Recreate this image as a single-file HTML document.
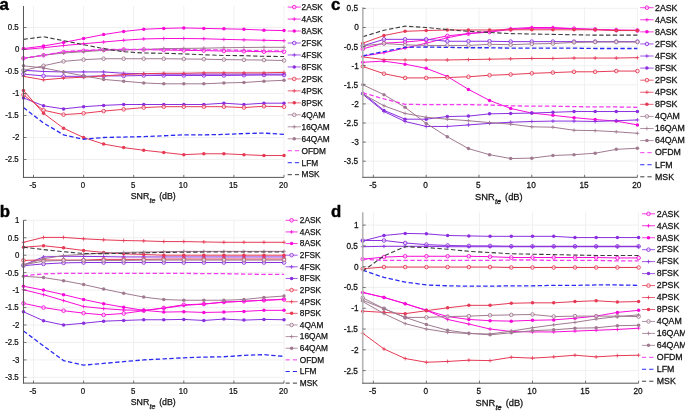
<!DOCTYPE html>
<html><head><meta charset="utf-8"><style>
html,body{margin:0;padding:0;background:#fff;width:685px;height:411px;overflow:hidden}
svg{display:block;filter:blur(0.3px);font-family:"Liberation Sans",sans-serif;fill:#111}
text{fill:#111;stroke:#111;stroke-width:0.25px}
</style></head><body>
<svg width="685" height="411" viewBox="0 0 685 411">
<path d="M33.5 6V177.4M83.6 6V177.4M133.7 6V177.4M183.8 6V177.4M233.9 6V177.4M284 6V177.4M23.48 27.5H284M23.48 49.5H284M23.48 71.5H284M23.48 93.5H284M23.48 115.5H284M23.48 137.5H284M23.48 159.5H284" stroke="#ececec" stroke-width="0.8" fill="none"/>
<clipPath id="clipa"><rect x="20.48" y="3" width="266.52" height="174.4"/></clipPath>
<g clip-path="url(#clipa)"><polyline points="23.48,58.3 43.52,55.22 63.56,52.14 83.6,50.82 103.64,49.94 123.68,49.5 143.72,49.5 163.76,49.94 183.8,50.38 203.84,50.6 223.88,51.04 243.92,51.26 263.96,51.7 284,51.7" fill="none" stroke="#f80bd8" stroke-width="1.0" stroke-linejoin="round"/><circle cx="23.48" cy="58.3" r="1.8" fill="#fff" fill-opacity="0.55" stroke="#f80bd8" stroke-width="0.9"/><circle cx="43.52" cy="55.22" r="1.8" fill="#fff" fill-opacity="0.55" stroke="#f80bd8" stroke-width="0.9"/><circle cx="63.56" cy="52.14" r="1.8" fill="#fff" fill-opacity="0.55" stroke="#f80bd8" stroke-width="0.9"/><circle cx="83.6" cy="50.82" r="1.8" fill="#fff" fill-opacity="0.55" stroke="#f80bd8" stroke-width="0.9"/><circle cx="103.64" cy="49.94" r="1.8" fill="#fff" fill-opacity="0.55" stroke="#f80bd8" stroke-width="0.9"/><circle cx="123.68" cy="49.5" r="1.8" fill="#fff" fill-opacity="0.55" stroke="#f80bd8" stroke-width="0.9"/><circle cx="143.72" cy="49.5" r="1.8" fill="#fff" fill-opacity="0.55" stroke="#f80bd8" stroke-width="0.9"/><circle cx="163.76" cy="49.94" r="1.8" fill="#fff" fill-opacity="0.55" stroke="#f80bd8" stroke-width="0.9"/><circle cx="183.8" cy="50.38" r="1.8" fill="#fff" fill-opacity="0.55" stroke="#f80bd8" stroke-width="0.9"/><circle cx="203.84" cy="50.6" r="1.8" fill="#fff" fill-opacity="0.55" stroke="#f80bd8" stroke-width="0.9"/><circle cx="223.88" cy="51.04" r="1.8" fill="#fff" fill-opacity="0.55" stroke="#f80bd8" stroke-width="0.9"/><circle cx="243.92" cy="51.26" r="1.8" fill="#fff" fill-opacity="0.55" stroke="#f80bd8" stroke-width="0.9"/><circle cx="263.96" cy="51.7" r="1.8" fill="#fff" fill-opacity="0.55" stroke="#f80bd8" stroke-width="0.9"/><circle cx="284" cy="51.7" r="1.8" fill="#fff" fill-opacity="0.55" stroke="#f80bd8" stroke-width="0.9"/><polyline points="23.48,49.5 43.52,47.74 63.56,45.54 83.6,43.78 103.64,42.02 123.68,40.26 143.72,38.94 163.76,38.5 183.8,38.5 203.84,38.72 223.88,39.38 243.92,39.82 263.96,40.26 284,40.7" fill="none" stroke="#f80bd8" stroke-width="1.0" stroke-linejoin="round"/><path d="M21.58 49.5H25.38M23.48 47.6V51.4" stroke="#f80bd8" stroke-width="0.8"/><path d="M41.62 47.74H45.42M43.52 45.84V49.64" stroke="#f80bd8" stroke-width="0.8"/><path d="M61.66 45.54H65.46M63.56 43.64V47.44" stroke="#f80bd8" stroke-width="0.8"/><path d="M81.7 43.78H85.5M83.6 41.88V45.68" stroke="#f80bd8" stroke-width="0.8"/><path d="M101.74 42.02H105.54M103.64 40.12V43.92" stroke="#f80bd8" stroke-width="0.8"/><path d="M121.78 40.26H125.58M123.68 38.36V42.16" stroke="#f80bd8" stroke-width="0.8"/><path d="M141.82 38.94H145.62M143.72 37.04V40.84" stroke="#f80bd8" stroke-width="0.8"/><path d="M161.86 38.5H165.66M163.76 36.6V40.4" stroke="#f80bd8" stroke-width="0.8"/><path d="M181.9 38.5H185.7M183.8 36.6V40.4" stroke="#f80bd8" stroke-width="0.8"/><path d="M201.94 38.72H205.74M203.84 36.82V40.62" stroke="#f80bd8" stroke-width="0.8"/><path d="M221.98 39.38H225.78M223.88 37.48V41.28" stroke="#f80bd8" stroke-width="0.8"/><path d="M242.02 39.82H245.82M243.92 37.92V41.72" stroke="#f80bd8" stroke-width="0.8"/><path d="M262.06 40.26H265.86M263.96 38.36V42.16" stroke="#f80bd8" stroke-width="0.8"/><path d="M282.1 40.7H285.9M284 38.8V42.6" stroke="#f80bd8" stroke-width="0.8"/><polyline points="23.48,48.62 43.52,45.98 63.56,42.46 83.6,38.5 103.64,34.54 123.68,31.46 143.72,29.26 163.76,28.38 183.8,27.94 203.84,28.38 223.88,28.82 243.92,29.26 263.96,30.14 284,30.58" fill="none" stroke="#f80bd8" stroke-width="1.0" stroke-linejoin="round"/><circle cx="23.48" cy="48.62" r="1.75" fill="#f80bd8"/><circle cx="43.52" cy="45.98" r="1.75" fill="#f80bd8"/><circle cx="63.56" cy="42.46" r="1.75" fill="#f80bd8"/><circle cx="83.6" cy="38.5" r="1.75" fill="#f80bd8"/><circle cx="103.64" cy="34.54" r="1.75" fill="#f80bd8"/><circle cx="123.68" cy="31.46" r="1.75" fill="#f80bd8"/><circle cx="143.72" cy="29.26" r="1.75" fill="#f80bd8"/><circle cx="163.76" cy="28.38" r="1.75" fill="#f80bd8"/><circle cx="183.8" cy="27.94" r="1.75" fill="#f80bd8"/><circle cx="203.84" cy="28.38" r="1.75" fill="#f80bd8"/><circle cx="223.88" cy="28.82" r="1.75" fill="#f80bd8"/><circle cx="243.92" cy="29.26" r="1.75" fill="#f80bd8"/><circle cx="263.96" cy="30.14" r="1.75" fill="#f80bd8"/><circle cx="284" cy="30.58" r="1.75" fill="#f80bd8"/><polyline points="23.48,74.14 43.52,75.9 63.56,76.34 83.6,76.34 103.64,75.9 123.68,75.9 143.72,75.46 163.76,75.46 183.8,75.46 203.84,75.46 223.88,75.46 243.92,75.24 263.96,75.02 284,75.02" fill="none" stroke="#8a2fe0" stroke-width="1.0" stroke-linejoin="round"/><circle cx="23.48" cy="74.14" r="1.8" fill="#fff" fill-opacity="0.55" stroke="#8a2fe0" stroke-width="0.9"/><circle cx="43.52" cy="75.9" r="1.8" fill="#fff" fill-opacity="0.55" stroke="#8a2fe0" stroke-width="0.9"/><circle cx="63.56" cy="76.34" r="1.8" fill="#fff" fill-opacity="0.55" stroke="#8a2fe0" stroke-width="0.9"/><circle cx="83.6" cy="76.34" r="1.8" fill="#fff" fill-opacity="0.55" stroke="#8a2fe0" stroke-width="0.9"/><circle cx="103.64" cy="75.9" r="1.8" fill="#fff" fill-opacity="0.55" stroke="#8a2fe0" stroke-width="0.9"/><circle cx="123.68" cy="75.9" r="1.8" fill="#fff" fill-opacity="0.55" stroke="#8a2fe0" stroke-width="0.9"/><circle cx="143.72" cy="75.46" r="1.8" fill="#fff" fill-opacity="0.55" stroke="#8a2fe0" stroke-width="0.9"/><circle cx="163.76" cy="75.46" r="1.8" fill="#fff" fill-opacity="0.55" stroke="#8a2fe0" stroke-width="0.9"/><circle cx="183.8" cy="75.46" r="1.8" fill="#fff" fill-opacity="0.55" stroke="#8a2fe0" stroke-width="0.9"/><circle cx="203.84" cy="75.46" r="1.8" fill="#fff" fill-opacity="0.55" stroke="#8a2fe0" stroke-width="0.9"/><circle cx="223.88" cy="75.46" r="1.8" fill="#fff" fill-opacity="0.55" stroke="#8a2fe0" stroke-width="0.9"/><circle cx="243.92" cy="75.24" r="1.8" fill="#fff" fill-opacity="0.55" stroke="#8a2fe0" stroke-width="0.9"/><circle cx="263.96" cy="75.02" r="1.8" fill="#fff" fill-opacity="0.55" stroke="#8a2fe0" stroke-width="0.9"/><circle cx="284" cy="75.02" r="1.8" fill="#fff" fill-opacity="0.55" stroke="#8a2fe0" stroke-width="0.9"/><polyline points="23.48,70.18 43.52,71.5 63.56,71.94 83.6,71.94 103.64,71.94 123.68,73.26 143.72,73.7 163.76,74.14 183.8,74.14 203.84,74.14 223.88,74.14 243.92,74.14 263.96,74.14 284,74.14" fill="none" stroke="#8a2fe0" stroke-width="1.0" stroke-linejoin="round"/><path d="M21.58 70.18H25.38M23.48 68.28V72.08" stroke="#8a2fe0" stroke-width="0.8"/><path d="M41.62 71.5H45.42M43.52 69.6V73.4" stroke="#8a2fe0" stroke-width="0.8"/><path d="M61.66 71.94H65.46M63.56 70.04V73.84" stroke="#8a2fe0" stroke-width="0.8"/><path d="M81.7 71.94H85.5M83.6 70.04V73.84" stroke="#8a2fe0" stroke-width="0.8"/><path d="M101.74 71.94H105.54M103.64 70.04V73.84" stroke="#8a2fe0" stroke-width="0.8"/><path d="M121.78 73.26H125.58M123.68 71.36V75.16" stroke="#8a2fe0" stroke-width="0.8"/><path d="M141.82 73.7H145.62M143.72 71.8V75.6" stroke="#8a2fe0" stroke-width="0.8"/><path d="M161.86 74.14H165.66M163.76 72.24V76.04" stroke="#8a2fe0" stroke-width="0.8"/><path d="M181.9 74.14H185.7M183.8 72.24V76.04" stroke="#8a2fe0" stroke-width="0.8"/><path d="M201.94 74.14H205.74M203.84 72.24V76.04" stroke="#8a2fe0" stroke-width="0.8"/><path d="M221.98 74.14H225.78M223.88 72.24V76.04" stroke="#8a2fe0" stroke-width="0.8"/><path d="M242.02 74.14H245.82M243.92 72.24V76.04" stroke="#8a2fe0" stroke-width="0.8"/><path d="M262.06 74.14H265.86M263.96 72.24V76.04" stroke="#8a2fe0" stroke-width="0.8"/><path d="M282.1 74.14H285.9M284 72.24V76.04" stroke="#8a2fe0" stroke-width="0.8"/><polyline points="23.48,97.9 43.52,105.82 63.56,108.9 83.6,106.7 103.64,105.38 123.68,104.5 143.72,104.5 163.76,104.5 183.8,104.5 203.84,104.5 223.88,103.18 243.92,104.5 263.96,103.18 284,103.18" fill="none" stroke="#8a2fe0" stroke-width="1.0" stroke-linejoin="round"/><circle cx="23.48" cy="97.9" r="1.75" fill="#8a2fe0"/><circle cx="43.52" cy="105.82" r="1.75" fill="#8a2fe0"/><circle cx="63.56" cy="108.9" r="1.75" fill="#8a2fe0"/><circle cx="83.6" cy="106.7" r="1.75" fill="#8a2fe0"/><circle cx="103.64" cy="105.38" r="1.75" fill="#8a2fe0"/><circle cx="123.68" cy="104.5" r="1.75" fill="#8a2fe0"/><circle cx="143.72" cy="104.5" r="1.75" fill="#8a2fe0"/><circle cx="163.76" cy="104.5" r="1.75" fill="#8a2fe0"/><circle cx="183.8" cy="104.5" r="1.75" fill="#8a2fe0"/><circle cx="203.84" cy="104.5" r="1.75" fill="#8a2fe0"/><circle cx="223.88" cy="103.18" r="1.75" fill="#8a2fe0"/><circle cx="243.92" cy="104.5" r="1.75" fill="#8a2fe0"/><circle cx="263.96" cy="103.18" r="1.75" fill="#8a2fe0"/><circle cx="284" cy="103.18" r="1.75" fill="#8a2fe0"/><polyline points="23.48,94.82 43.52,110.22 63.56,114.62 83.6,113.3 103.64,111.1 123.68,109.34 143.72,107.58 163.76,106.7 183.8,106.7 203.84,106.7 223.88,106.7 243.92,107.58 263.96,106.26 284,106.7" fill="none" stroke="#e63a55" stroke-width="1.0" stroke-linejoin="round"/><circle cx="23.48" cy="94.82" r="1.8" fill="#fff" fill-opacity="0.55" stroke="#e63a55" stroke-width="0.9"/><circle cx="43.52" cy="110.22" r="1.8" fill="#fff" fill-opacity="0.55" stroke="#e63a55" stroke-width="0.9"/><circle cx="63.56" cy="114.62" r="1.8" fill="#fff" fill-opacity="0.55" stroke="#e63a55" stroke-width="0.9"/><circle cx="83.6" cy="113.3" r="1.8" fill="#fff" fill-opacity="0.55" stroke="#e63a55" stroke-width="0.9"/><circle cx="103.64" cy="111.1" r="1.8" fill="#fff" fill-opacity="0.55" stroke="#e63a55" stroke-width="0.9"/><circle cx="123.68" cy="109.34" r="1.8" fill="#fff" fill-opacity="0.55" stroke="#e63a55" stroke-width="0.9"/><circle cx="143.72" cy="107.58" r="1.8" fill="#fff" fill-opacity="0.55" stroke="#e63a55" stroke-width="0.9"/><circle cx="163.76" cy="106.7" r="1.8" fill="#fff" fill-opacity="0.55" stroke="#e63a55" stroke-width="0.9"/><circle cx="183.8" cy="106.7" r="1.8" fill="#fff" fill-opacity="0.55" stroke="#e63a55" stroke-width="0.9"/><circle cx="203.84" cy="106.7" r="1.8" fill="#fff" fill-opacity="0.55" stroke="#e63a55" stroke-width="0.9"/><circle cx="223.88" cy="106.7" r="1.8" fill="#fff" fill-opacity="0.55" stroke="#e63a55" stroke-width="0.9"/><circle cx="243.92" cy="107.58" r="1.8" fill="#fff" fill-opacity="0.55" stroke="#e63a55" stroke-width="0.9"/><circle cx="263.96" cy="106.26" r="1.8" fill="#fff" fill-opacity="0.55" stroke="#e63a55" stroke-width="0.9"/><circle cx="284" cy="106.7" r="1.8" fill="#fff" fill-opacity="0.55" stroke="#e63a55" stroke-width="0.9"/><polyline points="23.48,76.34 43.52,79.86 63.56,78.1 83.6,77.22 103.64,75.9 123.68,74.58 143.72,73.7 163.76,73.26 183.8,73.26 203.84,72.82 223.88,72.82 243.92,72.82 263.96,72.82 284,72.38" fill="none" stroke="#e63a55" stroke-width="1.0" stroke-linejoin="round"/><path d="M21.58 76.34H25.38M23.48 74.44V78.24" stroke="#e63a55" stroke-width="0.8"/><path d="M41.62 79.86H45.42M43.52 77.96V81.76" stroke="#e63a55" stroke-width="0.8"/><path d="M61.66 78.1H65.46M63.56 76.2V80" stroke="#e63a55" stroke-width="0.8"/><path d="M81.7 77.22H85.5M83.6 75.32V79.12" stroke="#e63a55" stroke-width="0.8"/><path d="M101.74 75.9H105.54M103.64 74V77.8" stroke="#e63a55" stroke-width="0.8"/><path d="M121.78 74.58H125.58M123.68 72.68V76.48" stroke="#e63a55" stroke-width="0.8"/><path d="M141.82 73.7H145.62M143.72 71.8V75.6" stroke="#e63a55" stroke-width="0.8"/><path d="M161.86 73.26H165.66M163.76 71.36V75.16" stroke="#e63a55" stroke-width="0.8"/><path d="M181.9 73.26H185.7M183.8 71.36V75.16" stroke="#e63a55" stroke-width="0.8"/><path d="M201.94 72.82H205.74M203.84 70.92V74.72" stroke="#e63a55" stroke-width="0.8"/><path d="M221.98 72.82H225.78M223.88 70.92V74.72" stroke="#e63a55" stroke-width="0.8"/><path d="M242.02 72.82H245.82M243.92 70.92V74.72" stroke="#e63a55" stroke-width="0.8"/><path d="M262.06 72.82H265.86M263.96 70.92V74.72" stroke="#e63a55" stroke-width="0.8"/><path d="M282.1 72.38H285.9M284 70.48V74.28" stroke="#e63a55" stroke-width="0.8"/><polyline points="23.48,90.42 43.52,113.3 63.56,128.26 83.6,137.5 103.64,144.1 123.68,147.62 143.72,150.26 163.76,152.46 183.8,154.66 203.84,153.78 223.88,153.78 243.92,154.66 263.96,155.54 284,155.54" fill="none" stroke="#e63a55" stroke-width="1.0" stroke-linejoin="round"/><circle cx="23.48" cy="90.42" r="1.75" fill="#e63a55"/><circle cx="43.52" cy="113.3" r="1.75" fill="#e63a55"/><circle cx="63.56" cy="128.26" r="1.75" fill="#e63a55"/><circle cx="83.6" cy="137.5" r="1.75" fill="#e63a55"/><circle cx="103.64" cy="144.1" r="1.75" fill="#e63a55"/><circle cx="123.68" cy="147.62" r="1.75" fill="#e63a55"/><circle cx="143.72" cy="150.26" r="1.75" fill="#e63a55"/><circle cx="163.76" cy="152.46" r="1.75" fill="#e63a55"/><circle cx="183.8" cy="154.66" r="1.75" fill="#e63a55"/><circle cx="203.84" cy="153.78" r="1.75" fill="#e63a55"/><circle cx="223.88" cy="153.78" r="1.75" fill="#e63a55"/><circle cx="243.92" cy="154.66" r="1.75" fill="#e63a55"/><circle cx="263.96" cy="155.54" r="1.75" fill="#e63a55"/><circle cx="284" cy="155.54" r="1.75" fill="#e63a55"/><polyline points="23.48,70.4 43.52,65.78 63.56,61.38 83.6,59.62 103.64,58.74 123.68,58.74 143.72,58.74 163.76,58.74 183.8,58.96 203.84,59.18 223.88,59.62 243.92,59.84 263.96,60.06 284,60.5" fill="none" stroke="#a07a90" stroke-width="1.0" stroke-linejoin="round"/><circle cx="23.48" cy="70.4" r="1.8" fill="#fff" fill-opacity="0.55" stroke="#a07a90" stroke-width="0.9"/><circle cx="43.52" cy="65.78" r="1.8" fill="#fff" fill-opacity="0.55" stroke="#a07a90" stroke-width="0.9"/><circle cx="63.56" cy="61.38" r="1.8" fill="#fff" fill-opacity="0.55" stroke="#a07a90" stroke-width="0.9"/><circle cx="83.6" cy="59.62" r="1.8" fill="#fff" fill-opacity="0.55" stroke="#a07a90" stroke-width="0.9"/><circle cx="103.64" cy="58.74" r="1.8" fill="#fff" fill-opacity="0.55" stroke="#a07a90" stroke-width="0.9"/><circle cx="123.68" cy="58.74" r="1.8" fill="#fff" fill-opacity="0.55" stroke="#a07a90" stroke-width="0.9"/><circle cx="143.72" cy="58.74" r="1.8" fill="#fff" fill-opacity="0.55" stroke="#a07a90" stroke-width="0.9"/><circle cx="163.76" cy="58.74" r="1.8" fill="#fff" fill-opacity="0.55" stroke="#a07a90" stroke-width="0.9"/><circle cx="183.8" cy="58.96" r="1.8" fill="#fff" fill-opacity="0.55" stroke="#a07a90" stroke-width="0.9"/><circle cx="203.84" cy="59.18" r="1.8" fill="#fff" fill-opacity="0.55" stroke="#a07a90" stroke-width="0.9"/><circle cx="223.88" cy="59.62" r="1.8" fill="#fff" fill-opacity="0.55" stroke="#a07a90" stroke-width="0.9"/><circle cx="243.92" cy="59.84" r="1.8" fill="#fff" fill-opacity="0.55" stroke="#a07a90" stroke-width="0.9"/><circle cx="263.96" cy="60.06" r="1.8" fill="#fff" fill-opacity="0.55" stroke="#a07a90" stroke-width="0.9"/><circle cx="284" cy="60.5" r="1.8" fill="#fff" fill-opacity="0.55" stroke="#a07a90" stroke-width="0.9"/><polyline points="23.48,58.3 43.52,55.22 63.56,53.02 83.6,51.7 103.64,50.38 123.68,49.94 143.72,49.5 163.76,48.62 183.8,48.4 203.84,48.18 223.88,47.74 243.92,47.52 263.96,47.3 284,47.3" fill="none" stroke="#a07a90" stroke-width="1.0" stroke-linejoin="round"/><path d="M21.58 58.3H25.38M23.48 56.4V60.2" stroke="#a07a90" stroke-width="0.8"/><path d="M41.62 55.22H45.42M43.52 53.32V57.12" stroke="#a07a90" stroke-width="0.8"/><path d="M61.66 53.02H65.46M63.56 51.12V54.92" stroke="#a07a90" stroke-width="0.8"/><path d="M81.7 51.7H85.5M83.6 49.8V53.6" stroke="#a07a90" stroke-width="0.8"/><path d="M101.74 50.38H105.54M103.64 48.48V52.28" stroke="#a07a90" stroke-width="0.8"/><path d="M121.78 49.94H125.58M123.68 48.04V51.84" stroke="#a07a90" stroke-width="0.8"/><path d="M141.82 49.5H145.62M143.72 47.6V51.4" stroke="#a07a90" stroke-width="0.8"/><path d="M161.86 48.62H165.66M163.76 46.72V50.52" stroke="#a07a90" stroke-width="0.8"/><path d="M181.9 48.4H185.7M183.8 46.5V50.3" stroke="#a07a90" stroke-width="0.8"/><path d="M201.94 48.18H205.74M203.84 46.28V50.08" stroke="#a07a90" stroke-width="0.8"/><path d="M221.98 47.74H225.78M223.88 45.84V49.64" stroke="#a07a90" stroke-width="0.8"/><path d="M242.02 47.52H245.82M243.92 45.62V49.42" stroke="#a07a90" stroke-width="0.8"/><path d="M262.06 47.3H265.86M263.96 45.4V49.2" stroke="#a07a90" stroke-width="0.8"/><path d="M282.1 47.3H285.9M284 45.4V49.2" stroke="#a07a90" stroke-width="0.8"/><polyline points="23.48,65.78 43.52,67.98 63.56,71.94 83.6,75.9 103.64,79.42 123.68,81.18 143.72,82.94 163.76,83.82 183.8,83.82 203.84,83.82 223.88,82.94 243.92,82.5 263.96,81.18 284,80.3" fill="none" stroke="#a07a90" stroke-width="1.0" stroke-linejoin="round"/><circle cx="23.48" cy="65.78" r="1.75" fill="#a07a90"/><circle cx="43.52" cy="67.98" r="1.75" fill="#a07a90"/><circle cx="63.56" cy="71.94" r="1.75" fill="#a07a90"/><circle cx="83.6" cy="75.9" r="1.75" fill="#a07a90"/><circle cx="103.64" cy="79.42" r="1.75" fill="#a07a90"/><circle cx="123.68" cy="81.18" r="1.75" fill="#a07a90"/><circle cx="143.72" cy="82.94" r="1.75" fill="#a07a90"/><circle cx="163.76" cy="83.82" r="1.75" fill="#a07a90"/><circle cx="183.8" cy="83.82" r="1.75" fill="#a07a90"/><circle cx="203.84" cy="83.82" r="1.75" fill="#a07a90"/><circle cx="223.88" cy="82.94" r="1.75" fill="#a07a90"/><circle cx="243.92" cy="82.5" r="1.75" fill="#a07a90"/><circle cx="263.96" cy="81.18" r="1.75" fill="#a07a90"/><circle cx="284" cy="80.3" r="1.75" fill="#a07a90"/><polyline points="23.48,58.3 43.52,55.22 63.56,51.7 83.6,50.38 103.64,49.5 123.68,49.5 143.72,49.5 163.76,49.5 183.8,49.5 203.84,49.94 223.88,49.94 243.92,50.38 263.96,50.82 284,50.82" fill="none" stroke="#f23cf0" stroke-width="1.3" stroke-dasharray="4.4 2.4"/><polyline points="23.48,107.58 43.52,122.98 63.56,134.86 83.6,139.26 103.64,137.5 123.68,137.06 143.72,136.62 163.76,135.74 183.8,134.86 203.84,134.86 223.88,134.42 243.92,133.54 263.96,133.1 284,134.42" fill="none" stroke="#2a2af4" stroke-width="1.3" stroke-dasharray="4.4 2.4"/><polyline points="23.48,39.38 43.52,36.74 63.56,40.7 83.6,44.66 103.64,48.62 123.68,51.7 143.72,53.02 163.76,53.24 183.8,53.9 203.84,54.78 223.88,55.44 243.92,55.66 263.96,56.32 284,56.54" fill="none" stroke="#3c3c3c" stroke-width="1.1" stroke-dasharray="4.4 2.4"/></g>
<path d="M23.48 6V177.9" stroke="#555555" stroke-width="1.0"/>
<path d="M22.98 177.4H284" stroke="#555555" stroke-width="1"/>
<path d="M33.5 177.4v-2.5M83.6 177.4v-2.5M133.7 177.4v-2.5M183.8 177.4v-2.5M233.9 177.4v-2.5M284 177.4v-2.5M23.48 27.5h3M23.48 49.5h3M23.48 71.5h3M23.48 93.5h3M23.48 115.5h3M23.48 137.5h3M23.48 159.5h3" stroke="#555555" stroke-width="0.8"/>
<g font-size="8.7"><text transform="translate(32.9 188.3) scale(0.9 1)" text-anchor="middle">-5</text><text transform="translate(83 188.3) scale(0.9 1)" text-anchor="middle">0</text><text transform="translate(133.1 188.3) scale(0.9 1)" text-anchor="middle">5</text><text transform="translate(183.2 188.3) scale(0.9 1)" text-anchor="middle">10</text><text transform="translate(233.3 188.3) scale(0.9 1)" text-anchor="middle">15</text><text transform="translate(283.4 188.3) scale(0.9 1)" text-anchor="middle">20</text><text transform="translate(18.68 30.4) scale(0.9 1)" text-anchor="end">0.5</text><text transform="translate(19.38 52.4) scale(0.9 1)" text-anchor="end">0</text><text transform="translate(18.68 74.4) scale(0.9 1)" text-anchor="end">-0.5</text><text transform="translate(19.38 96.4) scale(0.9 1)" text-anchor="end">-1</text><text transform="translate(18.68 118.4) scale(0.9 1)" text-anchor="end">-1.5</text><text transform="translate(19.38 140.4) scale(0.9 1)" text-anchor="end">-2</text><text transform="translate(18.68 162.4) scale(0.9 1)" text-anchor="end">-2.5</text></g>
<text transform="translate(153.24 199.1) scale(1 1)" font-size="8.8" text-anchor="middle">SNR<tspan font-size="7" font-style="italic" dx="0.3" dy="4">te</tspan><tspan dx="1.3" dy="-4"> (dB)</tspan></text>
<path d="M287.7 7.1H300.8" stroke="#f80bd8" stroke-width="0.8"/><circle cx="294.25" cy="7.1" r="1.8" fill="#fff" fill-opacity="0.55" stroke="#f80bd8" stroke-width="0.9"/><text transform="translate(301.6 9.9) scale(1 1)" font-size="8.3">2ASK</text><path d="M287.7 19.07H300.8" stroke="#f80bd8" stroke-width="0.8"/><path d="M292.35 19.07H296.15M294.25 17.17V20.97" stroke="#f80bd8" stroke-width="0.8"/><text transform="translate(301.6 21.87) scale(1 1)" font-size="8.3">4ASK</text><path d="M287.7 31.04H300.8" stroke="#f80bd8" stroke-width="0.8"/><circle cx="294.25" cy="31.04" r="1.75" fill="#f80bd8"/><text transform="translate(301.6 33.84) scale(1 1)" font-size="8.3">8ASK</text><path d="M287.7 43.01H300.8" stroke="#8a2fe0" stroke-width="0.8"/><circle cx="294.25" cy="43.01" r="1.8" fill="#fff" fill-opacity="0.55" stroke="#8a2fe0" stroke-width="0.9"/><text transform="translate(301.6 45.81) scale(1 1)" font-size="8.3">2FSK</text><path d="M287.7 54.98H300.8" stroke="#8a2fe0" stroke-width="0.8"/><path d="M292.35 54.98H296.15M294.25 53.08V56.88" stroke="#8a2fe0" stroke-width="0.8"/><text transform="translate(301.6 57.78) scale(1 1)" font-size="8.3">4FSK</text><path d="M287.7 66.95H300.8" stroke="#8a2fe0" stroke-width="0.8"/><circle cx="294.25" cy="66.95" r="1.75" fill="#8a2fe0"/><text transform="translate(301.6 69.75) scale(1 1)" font-size="8.3">8FSK</text><path d="M287.7 78.92H300.8" stroke="#e63a55" stroke-width="0.8"/><circle cx="294.25" cy="78.92" r="1.8" fill="#fff" fill-opacity="0.55" stroke="#e63a55" stroke-width="0.9"/><text transform="translate(301.6 81.72) scale(1 1)" font-size="8.3">2PSK</text><path d="M287.7 90.89H300.8" stroke="#e63a55" stroke-width="0.8"/><path d="M292.35 90.89H296.15M294.25 88.99V92.79" stroke="#e63a55" stroke-width="0.8"/><text transform="translate(301.6 93.69) scale(1 1)" font-size="8.3">4PSK</text><path d="M287.7 102.86H300.8" stroke="#e63a55" stroke-width="0.8"/><circle cx="294.25" cy="102.86" r="1.75" fill="#e63a55"/><text transform="translate(301.6 105.66) scale(1 1)" font-size="8.3">8PSK</text><path d="M287.7 114.83H300.8" stroke="#a07a90" stroke-width="0.8"/><circle cx="294.25" cy="114.83" r="1.8" fill="#fff" fill-opacity="0.55" stroke="#a07a90" stroke-width="0.9"/><text transform="translate(301.6 117.63) scale(1 1)" font-size="8.3">4QAM</text><path d="M287.7 126.8H300.8" stroke="#a07a90" stroke-width="0.8"/><path d="M292.35 126.8H296.15M294.25 124.9V128.7" stroke="#a07a90" stroke-width="0.8"/><text transform="translate(301.6 129.6) scale(1 1)" font-size="8.3">16QAM</text><path d="M287.7 138.77H300.8" stroke="#a07a90" stroke-width="0.8"/><circle cx="294.25" cy="138.77" r="1.75" fill="#a07a90"/><text transform="translate(301.6 141.57) scale(1 1)" font-size="8.3">64QAM</text><path d="M287.7 150.74H300.8" stroke="#f23cf0" stroke-width="1" stroke-dasharray="4.2 3"/><text transform="translate(301.6 153.54) scale(1 1)" font-size="8.3">OFDM</text><path d="M287.7 162.71H300.8" stroke="#2a2af4" stroke-width="1" stroke-dasharray="4.2 3"/><text transform="translate(301.6 165.51) scale(1 1)" font-size="8.3">LFM</text><path d="M287.7 174.68H300.8" stroke="#3c3c3c" stroke-width="1" stroke-dasharray="4.2 3"/><text transform="translate(301.6 177.48) scale(1 1)" font-size="8.3">MSK</text>
<text x="-0.5" y="9.5" font-size="16.8" font-weight="bold" style="stroke:#000;stroke-width:0.4px;fill:#000">a</text>
<path d="M33.5 220.3V383.1M83.6 220.3V383.1M133.7 220.3V383.1M183.8 220.3V383.1M233.9 220.3V383.1M284 220.3V383.1M23.48 220.3H284M23.48 237.75H284M23.48 255.2H284M23.48 272.65H284M23.48 290.1H284M23.48 307.55H284M23.48 325H284M23.48 342.45H284M23.48 359.9H284M23.48 377.35H284" stroke="#ececec" stroke-width="0.8" fill="none"/>
<clipPath id="clipb"><rect x="20.48" y="217.3" width="266.52" height="165.8"/></clipPath>
<g clip-path="url(#clipb)"><polyline points="23.48,303.36 43.52,307.55 63.56,310.69 83.6,313.13 103.64,314.88 123.68,313.48 143.72,310.69 163.76,307.9 183.8,304.76 203.84,304.06 223.88,301.97 243.92,301.27 263.96,300.22 284,299.52" fill="none" stroke="#f80bd8" stroke-width="1.0" stroke-linejoin="round"/><circle cx="23.48" cy="303.36" r="1.8" fill="#fff" fill-opacity="0.55" stroke="#f80bd8" stroke-width="0.9"/><circle cx="43.52" cy="307.55" r="1.8" fill="#fff" fill-opacity="0.55" stroke="#f80bd8" stroke-width="0.9"/><circle cx="63.56" cy="310.69" r="1.8" fill="#fff" fill-opacity="0.55" stroke="#f80bd8" stroke-width="0.9"/><circle cx="83.6" cy="313.13" r="1.8" fill="#fff" fill-opacity="0.55" stroke="#f80bd8" stroke-width="0.9"/><circle cx="103.64" cy="314.88" r="1.8" fill="#fff" fill-opacity="0.55" stroke="#f80bd8" stroke-width="0.9"/><circle cx="123.68" cy="313.48" r="1.8" fill="#fff" fill-opacity="0.55" stroke="#f80bd8" stroke-width="0.9"/><circle cx="143.72" cy="310.69" r="1.8" fill="#fff" fill-opacity="0.55" stroke="#f80bd8" stroke-width="0.9"/><circle cx="163.76" cy="307.9" r="1.8" fill="#fff" fill-opacity="0.55" stroke="#f80bd8" stroke-width="0.9"/><circle cx="183.8" cy="304.76" r="1.8" fill="#fff" fill-opacity="0.55" stroke="#f80bd8" stroke-width="0.9"/><circle cx="203.84" cy="304.06" r="1.8" fill="#fff" fill-opacity="0.55" stroke="#f80bd8" stroke-width="0.9"/><circle cx="223.88" cy="301.97" r="1.8" fill="#fff" fill-opacity="0.55" stroke="#f80bd8" stroke-width="0.9"/><circle cx="243.92" cy="301.27" r="1.8" fill="#fff" fill-opacity="0.55" stroke="#f80bd8" stroke-width="0.9"/><circle cx="263.96" cy="300.22" r="1.8" fill="#fff" fill-opacity="0.55" stroke="#f80bd8" stroke-width="0.9"/><circle cx="284" cy="299.52" r="1.8" fill="#fff" fill-opacity="0.55" stroke="#f80bd8" stroke-width="0.9"/><polyline points="23.48,289.75 43.52,294.64 63.56,300.57 83.6,306.5 103.64,308.6 123.68,309.99 143.72,310.34 163.76,308.25 183.8,305.46 203.84,304.06 223.88,302.31 243.92,301.27 263.96,300.22 284,299.17" fill="none" stroke="#f80bd8" stroke-width="1.0" stroke-linejoin="round"/><path d="M21.58 289.75H25.38M23.48 287.85V291.65" stroke="#f80bd8" stroke-width="0.8"/><path d="M41.62 294.64H45.42M43.52 292.74V296.54" stroke="#f80bd8" stroke-width="0.8"/><path d="M61.66 300.57H65.46M63.56 298.67V302.47" stroke="#f80bd8" stroke-width="0.8"/><path d="M81.7 306.5H85.5M83.6 304.6V308.4" stroke="#f80bd8" stroke-width="0.8"/><path d="M101.74 308.6H105.54M103.64 306.7V310.5" stroke="#f80bd8" stroke-width="0.8"/><path d="M121.78 309.99H125.58M123.68 308.09V311.89" stroke="#f80bd8" stroke-width="0.8"/><path d="M141.82 310.34H145.62M143.72 308.44V312.24" stroke="#f80bd8" stroke-width="0.8"/><path d="M161.86 308.25H165.66M163.76 306.35V310.15" stroke="#f80bd8" stroke-width="0.8"/><path d="M181.9 305.46H185.7M183.8 303.56V307.36" stroke="#f80bd8" stroke-width="0.8"/><path d="M201.94 304.06H205.74M203.84 302.16V305.96" stroke="#f80bd8" stroke-width="0.8"/><path d="M221.98 302.31H225.78M223.88 300.42V304.21" stroke="#f80bd8" stroke-width="0.8"/><path d="M242.02 301.27H245.82M243.92 299.37V303.17" stroke="#f80bd8" stroke-width="0.8"/><path d="M262.06 300.22H265.86M263.96 298.32V302.12" stroke="#f80bd8" stroke-width="0.8"/><path d="M282.1 299.17H285.9M284 297.27V301.07" stroke="#f80bd8" stroke-width="0.8"/><polyline points="23.48,286.26 43.52,290.1 63.56,294.64 83.6,299.52 103.64,303.71 123.68,307.2 143.72,310.34 163.76,312.09 183.8,311.74 203.84,312.44 223.88,312.09 243.92,311.39 263.96,310.34 284,310.34" fill="none" stroke="#f80bd8" stroke-width="1.0" stroke-linejoin="round"/><circle cx="23.48" cy="286.26" r="1.75" fill="#f80bd8"/><circle cx="43.52" cy="290.1" r="1.75" fill="#f80bd8"/><circle cx="63.56" cy="294.64" r="1.75" fill="#f80bd8"/><circle cx="83.6" cy="299.52" r="1.75" fill="#f80bd8"/><circle cx="103.64" cy="303.71" r="1.75" fill="#f80bd8"/><circle cx="123.68" cy="307.2" r="1.75" fill="#f80bd8"/><circle cx="143.72" cy="310.34" r="1.75" fill="#f80bd8"/><circle cx="163.76" cy="312.09" r="1.75" fill="#f80bd8"/><circle cx="183.8" cy="311.74" r="1.75" fill="#f80bd8"/><circle cx="203.84" cy="312.44" r="1.75" fill="#f80bd8"/><circle cx="223.88" cy="312.09" r="1.75" fill="#f80bd8"/><circle cx="243.92" cy="311.39" r="1.75" fill="#f80bd8"/><circle cx="263.96" cy="310.34" r="1.75" fill="#f80bd8"/><circle cx="284" cy="310.34" r="1.75" fill="#f80bd8"/><polyline points="23.48,265.67 43.52,263.93 63.56,262.88 83.6,262.53 103.64,262.53 123.68,262.53 143.72,262.53 163.76,262.53 183.8,262.53 203.84,262.53 223.88,262.53 243.92,262.53 263.96,262.53 284,262.53" fill="none" stroke="#8a2fe0" stroke-width="1.0" stroke-linejoin="round"/><circle cx="23.48" cy="265.67" r="1.8" fill="#fff" fill-opacity="0.55" stroke="#8a2fe0" stroke-width="0.9"/><circle cx="43.52" cy="263.93" r="1.8" fill="#fff" fill-opacity="0.55" stroke="#8a2fe0" stroke-width="0.9"/><circle cx="63.56" cy="262.88" r="1.8" fill="#fff" fill-opacity="0.55" stroke="#8a2fe0" stroke-width="0.9"/><circle cx="83.6" cy="262.53" r="1.8" fill="#fff" fill-opacity="0.55" stroke="#8a2fe0" stroke-width="0.9"/><circle cx="103.64" cy="262.53" r="1.8" fill="#fff" fill-opacity="0.55" stroke="#8a2fe0" stroke-width="0.9"/><circle cx="123.68" cy="262.53" r="1.8" fill="#fff" fill-opacity="0.55" stroke="#8a2fe0" stroke-width="0.9"/><circle cx="143.72" cy="262.53" r="1.8" fill="#fff" fill-opacity="0.55" stroke="#8a2fe0" stroke-width="0.9"/><circle cx="163.76" cy="262.53" r="1.8" fill="#fff" fill-opacity="0.55" stroke="#8a2fe0" stroke-width="0.9"/><circle cx="183.8" cy="262.53" r="1.8" fill="#fff" fill-opacity="0.55" stroke="#8a2fe0" stroke-width="0.9"/><circle cx="203.84" cy="262.53" r="1.8" fill="#fff" fill-opacity="0.55" stroke="#8a2fe0" stroke-width="0.9"/><circle cx="223.88" cy="262.53" r="1.8" fill="#fff" fill-opacity="0.55" stroke="#8a2fe0" stroke-width="0.9"/><circle cx="243.92" cy="262.53" r="1.8" fill="#fff" fill-opacity="0.55" stroke="#8a2fe0" stroke-width="0.9"/><circle cx="263.96" cy="262.53" r="1.8" fill="#fff" fill-opacity="0.55" stroke="#8a2fe0" stroke-width="0.9"/><circle cx="284" cy="262.53" r="1.8" fill="#fff" fill-opacity="0.55" stroke="#8a2fe0" stroke-width="0.9"/><polyline points="23.48,264.97 43.52,256.94 63.56,256.25 83.6,256.42 103.64,256.6 123.68,256.94 143.72,256.94 163.76,256.94 183.8,256.94 203.84,256.94 223.88,256.94 243.92,256.94 263.96,256.94 284,256.94" fill="none" stroke="#8a2fe0" stroke-width="1.0" stroke-linejoin="round"/><path d="M21.58 264.97H25.38M23.48 263.07V266.87" stroke="#8a2fe0" stroke-width="0.8"/><path d="M41.62 256.94H45.42M43.52 255.04V258.84" stroke="#8a2fe0" stroke-width="0.8"/><path d="M61.66 256.25H65.46M63.56 254.35V258.15" stroke="#8a2fe0" stroke-width="0.8"/><path d="M81.7 256.42H85.5M83.6 254.52V258.32" stroke="#8a2fe0" stroke-width="0.8"/><path d="M101.74 256.6H105.54M103.64 254.7V258.5" stroke="#8a2fe0" stroke-width="0.8"/><path d="M121.78 256.94H125.58M123.68 255.04V258.84" stroke="#8a2fe0" stroke-width="0.8"/><path d="M141.82 256.94H145.62M143.72 255.04V258.84" stroke="#8a2fe0" stroke-width="0.8"/><path d="M161.86 256.94H165.66M163.76 255.04V258.84" stroke="#8a2fe0" stroke-width="0.8"/><path d="M181.9 256.94H185.7M183.8 255.04V258.84" stroke="#8a2fe0" stroke-width="0.8"/><path d="M201.94 256.94H205.74M203.84 255.04V258.84" stroke="#8a2fe0" stroke-width="0.8"/><path d="M221.98 256.94H225.78M223.88 255.04V258.84" stroke="#8a2fe0" stroke-width="0.8"/><path d="M242.02 256.94H245.82M243.92 255.04V258.84" stroke="#8a2fe0" stroke-width="0.8"/><path d="M262.06 256.94H265.86M263.96 255.04V258.84" stroke="#8a2fe0" stroke-width="0.8"/><path d="M282.1 256.94H285.9M284 255.04V258.84" stroke="#8a2fe0" stroke-width="0.8"/><polyline points="23.48,311.74 43.52,320.81 63.56,325 83.6,323.25 103.64,321.16 123.68,320.46 143.72,319.76 163.76,319.76 183.8,319.42 203.84,320.46 223.88,319.07 243.92,320.11 263.96,319.42 284,319.76" fill="none" stroke="#8a2fe0" stroke-width="1.0" stroke-linejoin="round"/><circle cx="23.48" cy="311.74" r="1.75" fill="#8a2fe0"/><circle cx="43.52" cy="320.81" r="1.75" fill="#8a2fe0"/><circle cx="63.56" cy="325" r="1.75" fill="#8a2fe0"/><circle cx="83.6" cy="323.25" r="1.75" fill="#8a2fe0"/><circle cx="103.64" cy="321.16" r="1.75" fill="#8a2fe0"/><circle cx="123.68" cy="320.46" r="1.75" fill="#8a2fe0"/><circle cx="143.72" cy="319.76" r="1.75" fill="#8a2fe0"/><circle cx="163.76" cy="319.76" r="1.75" fill="#8a2fe0"/><circle cx="183.8" cy="319.42" r="1.75" fill="#8a2fe0"/><circle cx="203.84" cy="320.46" r="1.75" fill="#8a2fe0"/><circle cx="223.88" cy="319.07" r="1.75" fill="#8a2fe0"/><circle cx="243.92" cy="320.11" r="1.75" fill="#8a2fe0"/><circle cx="263.96" cy="319.42" r="1.75" fill="#8a2fe0"/><circle cx="284" cy="319.76" r="1.75" fill="#8a2fe0"/><polyline points="23.48,260.44 43.52,259.91 63.56,260.09 83.6,260.09 103.64,259.39 123.68,259.39 143.72,259.39 163.76,259.04 183.8,259.04 203.84,259.04 223.88,259.04 243.92,259.04 263.96,259.04 284,259.04" fill="none" stroke="#e63a55" stroke-width="1.0" stroke-linejoin="round"/><circle cx="23.48" cy="260.44" r="1.8" fill="#fff" fill-opacity="0.55" stroke="#e63a55" stroke-width="0.9"/><circle cx="43.52" cy="259.91" r="1.8" fill="#fff" fill-opacity="0.55" stroke="#e63a55" stroke-width="0.9"/><circle cx="63.56" cy="260.09" r="1.8" fill="#fff" fill-opacity="0.55" stroke="#e63a55" stroke-width="0.9"/><circle cx="83.6" cy="260.09" r="1.8" fill="#fff" fill-opacity="0.55" stroke="#e63a55" stroke-width="0.9"/><circle cx="103.64" cy="259.39" r="1.8" fill="#fff" fill-opacity="0.55" stroke="#e63a55" stroke-width="0.9"/><circle cx="123.68" cy="259.39" r="1.8" fill="#fff" fill-opacity="0.55" stroke="#e63a55" stroke-width="0.9"/><circle cx="143.72" cy="259.39" r="1.8" fill="#fff" fill-opacity="0.55" stroke="#e63a55" stroke-width="0.9"/><circle cx="163.76" cy="259.04" r="1.8" fill="#fff" fill-opacity="0.55" stroke="#e63a55" stroke-width="0.9"/><circle cx="183.8" cy="259.04" r="1.8" fill="#fff" fill-opacity="0.55" stroke="#e63a55" stroke-width="0.9"/><circle cx="203.84" cy="259.04" r="1.8" fill="#fff" fill-opacity="0.55" stroke="#e63a55" stroke-width="0.9"/><circle cx="223.88" cy="259.04" r="1.8" fill="#fff" fill-opacity="0.55" stroke="#e63a55" stroke-width="0.9"/><circle cx="243.92" cy="259.04" r="1.8" fill="#fff" fill-opacity="0.55" stroke="#e63a55" stroke-width="0.9"/><circle cx="263.96" cy="259.04" r="1.8" fill="#fff" fill-opacity="0.55" stroke="#e63a55" stroke-width="0.9"/><circle cx="284" cy="259.04" r="1.8" fill="#fff" fill-opacity="0.55" stroke="#e63a55" stroke-width="0.9"/><polyline points="23.48,242.29 43.52,237.4 63.56,237.4 83.6,238.8 103.64,239.84 123.68,240.54 143.72,240.89 163.76,241.59 183.8,241.59 203.84,241.94 223.88,242.29 243.92,242.29 263.96,242.29 284,242.29" fill="none" stroke="#e63a55" stroke-width="1.0" stroke-linejoin="round"/><path d="M21.58 242.29H25.38M23.48 240.39V244.19" stroke="#e63a55" stroke-width="0.8"/><path d="M41.62 237.4H45.42M43.52 235.5V239.3" stroke="#e63a55" stroke-width="0.8"/><path d="M61.66 237.4H65.46M63.56 235.5V239.3" stroke="#e63a55" stroke-width="0.8"/><path d="M81.7 238.8H85.5M83.6 236.9V240.7" stroke="#e63a55" stroke-width="0.8"/><path d="M101.74 239.84H105.54M103.64 237.94V241.74" stroke="#e63a55" stroke-width="0.8"/><path d="M121.78 240.54H125.58M123.68 238.64V242.44" stroke="#e63a55" stroke-width="0.8"/><path d="M141.82 240.89H145.62M143.72 238.99V242.79" stroke="#e63a55" stroke-width="0.8"/><path d="M161.86 241.59H165.66M163.76 239.69V243.49" stroke="#e63a55" stroke-width="0.8"/><path d="M181.9 241.59H185.7M183.8 239.69V243.49" stroke="#e63a55" stroke-width="0.8"/><path d="M201.94 241.94H205.74M203.84 240.04V243.84" stroke="#e63a55" stroke-width="0.8"/><path d="M221.98 242.29H225.78M223.88 240.39V244.19" stroke="#e63a55" stroke-width="0.8"/><path d="M242.02 242.29H245.82M243.92 240.39V244.19" stroke="#e63a55" stroke-width="0.8"/><path d="M262.06 242.29H265.86M263.96 240.39V244.19" stroke="#e63a55" stroke-width="0.8"/><path d="M282.1 242.29H285.9M284 240.39V244.19" stroke="#e63a55" stroke-width="0.8"/><polyline points="23.48,247.17 43.52,245.78 63.56,247.87 83.6,250.49 103.64,252.41 123.68,253.8 143.72,254.5 163.76,255.2 183.8,255.2 203.84,255.2 223.88,255.2 243.92,255.2 263.96,255.2 284,255.2" fill="none" stroke="#e63a55" stroke-width="1.0" stroke-linejoin="round"/><circle cx="23.48" cy="247.17" r="1.75" fill="#e63a55"/><circle cx="43.52" cy="245.78" r="1.75" fill="#e63a55"/><circle cx="63.56" cy="247.87" r="1.75" fill="#e63a55"/><circle cx="83.6" cy="250.49" r="1.75" fill="#e63a55"/><circle cx="103.64" cy="252.41" r="1.75" fill="#e63a55"/><circle cx="123.68" cy="253.8" r="1.75" fill="#e63a55"/><circle cx="143.72" cy="254.5" r="1.75" fill="#e63a55"/><circle cx="163.76" cy="255.2" r="1.75" fill="#e63a55"/><circle cx="183.8" cy="255.2" r="1.75" fill="#e63a55"/><circle cx="203.84" cy="255.2" r="1.75" fill="#e63a55"/><circle cx="223.88" cy="255.2" r="1.75" fill="#e63a55"/><circle cx="243.92" cy="255.2" r="1.75" fill="#e63a55"/><circle cx="263.96" cy="255.2" r="1.75" fill="#e63a55"/><circle cx="284" cy="255.2" r="1.75" fill="#e63a55"/><polyline points="23.48,264.8 43.52,261.13 63.56,260.44 83.6,260.44 103.64,260.44 123.68,260.44 143.72,260.09 163.76,260.09 183.8,260.09 203.84,260.09 223.88,260.09 243.92,260.09 263.96,260.09 284,260.09" fill="none" stroke="#a07a90" stroke-width="1.0" stroke-linejoin="round"/><circle cx="23.48" cy="264.8" r="1.8" fill="#fff" fill-opacity="0.55" stroke="#a07a90" stroke-width="0.9"/><circle cx="43.52" cy="261.13" r="1.8" fill="#fff" fill-opacity="0.55" stroke="#a07a90" stroke-width="0.9"/><circle cx="63.56" cy="260.44" r="1.8" fill="#fff" fill-opacity="0.55" stroke="#a07a90" stroke-width="0.9"/><circle cx="83.6" cy="260.44" r="1.8" fill="#fff" fill-opacity="0.55" stroke="#a07a90" stroke-width="0.9"/><circle cx="103.64" cy="260.44" r="1.8" fill="#fff" fill-opacity="0.55" stroke="#a07a90" stroke-width="0.9"/><circle cx="123.68" cy="260.44" r="1.8" fill="#fff" fill-opacity="0.55" stroke="#a07a90" stroke-width="0.9"/><circle cx="143.72" cy="260.09" r="1.8" fill="#fff" fill-opacity="0.55" stroke="#a07a90" stroke-width="0.9"/><circle cx="163.76" cy="260.09" r="1.8" fill="#fff" fill-opacity="0.55" stroke="#a07a90" stroke-width="0.9"/><circle cx="183.8" cy="260.09" r="1.8" fill="#fff" fill-opacity="0.55" stroke="#a07a90" stroke-width="0.9"/><circle cx="203.84" cy="260.09" r="1.8" fill="#fff" fill-opacity="0.55" stroke="#a07a90" stroke-width="0.9"/><circle cx="223.88" cy="260.09" r="1.8" fill="#fff" fill-opacity="0.55" stroke="#a07a90" stroke-width="0.9"/><circle cx="243.92" cy="260.09" r="1.8" fill="#fff" fill-opacity="0.55" stroke="#a07a90" stroke-width="0.9"/><circle cx="263.96" cy="260.09" r="1.8" fill="#fff" fill-opacity="0.55" stroke="#a07a90" stroke-width="0.9"/><circle cx="284" cy="260.09" r="1.8" fill="#fff" fill-opacity="0.55" stroke="#a07a90" stroke-width="0.9"/><polyline points="23.48,264.97 43.52,258.69 63.56,255.55 83.6,254.33 103.64,253.11 123.68,252.41 143.72,252.06 163.76,251.71 183.8,251.36 203.84,251.36 223.88,251.36 243.92,251.36 263.96,251.36 284,251.36" fill="none" stroke="#a07a90" stroke-width="1.0" stroke-linejoin="round"/><path d="M21.58 264.97H25.38M23.48 263.07V266.87" stroke="#a07a90" stroke-width="0.8"/><path d="M41.62 258.69H45.42M43.52 256.79V260.59" stroke="#a07a90" stroke-width="0.8"/><path d="M61.66 255.55H65.46M63.56 253.65V257.45" stroke="#a07a90" stroke-width="0.8"/><path d="M81.7 254.33H85.5M83.6 252.43V256.23" stroke="#a07a90" stroke-width="0.8"/><path d="M101.74 253.11H105.54M103.64 251.21V255.01" stroke="#a07a90" stroke-width="0.8"/><path d="M121.78 252.41H125.58M123.68 250.51V254.31" stroke="#a07a90" stroke-width="0.8"/><path d="M141.82 252.06H145.62M143.72 250.16V253.96" stroke="#a07a90" stroke-width="0.8"/><path d="M161.86 251.71H165.66M163.76 249.81V253.61" stroke="#a07a90" stroke-width="0.8"/><path d="M181.9 251.36H185.7M183.8 249.46V253.26" stroke="#a07a90" stroke-width="0.8"/><path d="M201.94 251.36H205.74M203.84 249.46V253.26" stroke="#a07a90" stroke-width="0.8"/><path d="M221.98 251.36H225.78M223.88 249.46V253.26" stroke="#a07a90" stroke-width="0.8"/><path d="M242.02 251.36H245.82M243.92 249.46V253.26" stroke="#a07a90" stroke-width="0.8"/><path d="M262.06 251.36H265.86M263.96 249.46V253.26" stroke="#a07a90" stroke-width="0.8"/><path d="M282.1 251.36H285.9M284 249.46V253.26" stroke="#a07a90" stroke-width="0.8"/><polyline points="23.48,276.31 43.52,277.54 63.56,280.68 83.6,284.52 103.64,289.05 123.68,293.24 143.72,297.08 163.76,299.52 183.8,300.22 203.84,300.22 223.88,300.22 243.92,299.52 263.96,297.43 284,296.03" fill="none" stroke="#a07a90" stroke-width="1.0" stroke-linejoin="round"/><circle cx="23.48" cy="276.31" r="1.75" fill="#a07a90"/><circle cx="43.52" cy="277.54" r="1.75" fill="#a07a90"/><circle cx="63.56" cy="280.68" r="1.75" fill="#a07a90"/><circle cx="83.6" cy="284.52" r="1.75" fill="#a07a90"/><circle cx="103.64" cy="289.05" r="1.75" fill="#a07a90"/><circle cx="123.68" cy="293.24" r="1.75" fill="#a07a90"/><circle cx="143.72" cy="297.08" r="1.75" fill="#a07a90"/><circle cx="163.76" cy="299.52" r="1.75" fill="#a07a90"/><circle cx="183.8" cy="300.22" r="1.75" fill="#a07a90"/><circle cx="203.84" cy="300.22" r="1.75" fill="#a07a90"/><circle cx="223.88" cy="300.22" r="1.75" fill="#a07a90"/><circle cx="243.92" cy="299.52" r="1.75" fill="#a07a90"/><circle cx="263.96" cy="297.43" r="1.75" fill="#a07a90"/><circle cx="284" cy="296.03" r="1.75" fill="#a07a90"/><polyline points="23.48,275.79 43.52,273.87 63.56,273.35 83.6,273.35 103.64,273.35 123.68,273.35 143.72,273.35 163.76,273.35 183.8,273.35 203.84,273.7 223.88,273.7 243.92,274.05 263.96,274.39 284,274.39" fill="none" stroke="#f23cf0" stroke-width="1.3" stroke-dasharray="4.4 2.4"/><polyline points="23.48,330.93 43.52,345.94 63.56,360.6 83.6,365.13 103.64,363.39 123.68,361.64 143.72,359.9 163.76,358.85 183.8,357.81 203.84,357.11 223.88,356.76 243.92,355.36 263.96,354.66 284,356.41" fill="none" stroke="#2a2af4" stroke-width="1.3" stroke-dasharray="4.4 2.4"/><polyline points="23.48,247.17 43.52,249.62 63.56,251.71 83.6,253.45 103.64,253.63 123.68,253.45 143.72,252.76 163.76,252.41 183.8,252.23 203.84,252.06 223.88,252.06 243.92,252.06 263.96,252.06 284,252.06" fill="none" stroke="#3c3c3c" stroke-width="1.1" stroke-dasharray="4.4 2.4"/></g>
<path d="M23.48 220.3V383.6" stroke="#555555" stroke-width="1.0"/>
<path d="M22.98 383.1H284" stroke="#555555" stroke-width="1"/>
<path d="M33.5 383.1v-2.5M83.6 383.1v-2.5M133.7 383.1v-2.5M183.8 383.1v-2.5M233.9 383.1v-2.5M284 383.1v-2.5M23.48 220.3h3M23.48 237.75h3M23.48 255.2h3M23.48 272.65h3M23.48 290.1h3M23.48 307.55h3M23.48 325h3M23.48 342.45h3M23.48 359.9h3M23.48 377.35h3" stroke="#555555" stroke-width="0.8"/>
<g font-size="8.7"><text transform="translate(32.9 394) scale(0.9 1)" text-anchor="middle">-5</text><text transform="translate(83 394) scale(0.9 1)" text-anchor="middle">0</text><text transform="translate(133.1 394) scale(0.9 1)" text-anchor="middle">5</text><text transform="translate(183.2 394) scale(0.9 1)" text-anchor="middle">10</text><text transform="translate(233.3 394) scale(0.9 1)" text-anchor="middle">15</text><text transform="translate(283.4 394) scale(0.9 1)" text-anchor="middle">20</text><text transform="translate(19.38 223.2) scale(0.9 1)" text-anchor="end">1</text><text transform="translate(18.68 240.65) scale(0.9 1)" text-anchor="end">0.5</text><text transform="translate(19.38 258.1) scale(0.9 1)" text-anchor="end">0</text><text transform="translate(18.68 275.55) scale(0.9 1)" text-anchor="end">-0.5</text><text transform="translate(19.38 293) scale(0.9 1)" text-anchor="end">-1</text><text transform="translate(18.68 310.45) scale(0.9 1)" text-anchor="end">-1.5</text><text transform="translate(19.38 327.9) scale(0.9 1)" text-anchor="end">-2</text><text transform="translate(18.68 345.35) scale(0.9 1)" text-anchor="end">-2.5</text><text transform="translate(19.38 362.8) scale(0.9 1)" text-anchor="end">-3</text><text transform="translate(18.68 380.25) scale(0.9 1)" text-anchor="end">-3.5</text></g>
<text transform="translate(153.24 404.9) scale(1 1)" font-size="8.8" text-anchor="middle">SNR<tspan font-size="7" font-style="italic" dx="0.3" dy="4">te</tspan><tspan dx="1.3" dy="-4"> (dB)</tspan></text>
<path d="M285.6 220.3H297.6" stroke="#f80bd8" stroke-width="0.8"/><circle cx="291.6" cy="220.3" r="1.8" fill="#fff" fill-opacity="0.55" stroke="#f80bd8" stroke-width="0.9"/><text transform="translate(299.8 223.1) scale(1 1)" font-size="8.3">2ASK</text><path d="M285.6 231.93H297.6" stroke="#f80bd8" stroke-width="0.8"/><path d="M289.7 231.93H293.5M291.6 230.03V233.83" stroke="#f80bd8" stroke-width="0.8"/><text transform="translate(299.8 234.73) scale(1 1)" font-size="8.3">4ASK</text><path d="M285.6 243.56H297.6" stroke="#f80bd8" stroke-width="0.8"/><circle cx="291.6" cy="243.56" r="1.75" fill="#f80bd8"/><text transform="translate(299.8 246.36) scale(1 1)" font-size="8.3">8ASK</text><path d="M285.6 255.19H297.6" stroke="#8a2fe0" stroke-width="0.8"/><circle cx="291.6" cy="255.19" r="1.8" fill="#fff" fill-opacity="0.55" stroke="#8a2fe0" stroke-width="0.9"/><text transform="translate(299.8 257.99) scale(1 1)" font-size="8.3">2FSK</text><path d="M285.6 266.82H297.6" stroke="#8a2fe0" stroke-width="0.8"/><path d="M289.7 266.82H293.5M291.6 264.92V268.72" stroke="#8a2fe0" stroke-width="0.8"/><text transform="translate(299.8 269.62) scale(1 1)" font-size="8.3">4FSK</text><path d="M285.6 278.45H297.6" stroke="#8a2fe0" stroke-width="0.8"/><circle cx="291.6" cy="278.45" r="1.75" fill="#8a2fe0"/><text transform="translate(299.8 281.25) scale(1 1)" font-size="8.3">8FSK</text><path d="M285.6 290.08H297.6" stroke="#e63a55" stroke-width="0.8"/><circle cx="291.6" cy="290.08" r="1.8" fill="#fff" fill-opacity="0.55" stroke="#e63a55" stroke-width="0.9"/><text transform="translate(299.8 292.88) scale(1 1)" font-size="8.3">2PSK</text><path d="M285.6 301.71H297.6" stroke="#e63a55" stroke-width="0.8"/><path d="M289.7 301.71H293.5M291.6 299.81V303.61" stroke="#e63a55" stroke-width="0.8"/><text transform="translate(299.8 304.51) scale(1 1)" font-size="8.3">4PSK</text><path d="M285.6 313.34H297.6" stroke="#e63a55" stroke-width="0.8"/><circle cx="291.6" cy="313.34" r="1.75" fill="#e63a55"/><text transform="translate(299.8 316.14) scale(1 1)" font-size="8.3">8PSK</text><path d="M285.6 324.97H297.6" stroke="#a07a90" stroke-width="0.8"/><circle cx="291.6" cy="324.97" r="1.8" fill="#fff" fill-opacity="0.55" stroke="#a07a90" stroke-width="0.9"/><text transform="translate(299.8 327.77) scale(1 1)" font-size="8.3">4QAM</text><path d="M285.6 336.6H297.6" stroke="#a07a90" stroke-width="0.8"/><path d="M289.7 336.6H293.5M291.6 334.7V338.5" stroke="#a07a90" stroke-width="0.8"/><text transform="translate(299.8 339.4) scale(1 1)" font-size="8.3">16QAM</text><path d="M285.6 348.23H297.6" stroke="#a07a90" stroke-width="0.8"/><circle cx="291.6" cy="348.23" r="1.75" fill="#a07a90"/><text transform="translate(299.8 351.03) scale(1 1)" font-size="8.3">64QAM</text><path d="M285.6 359.86H297.6" stroke="#f23cf0" stroke-width="1" stroke-dasharray="4.2 3"/><text transform="translate(299.8 362.66) scale(1 1)" font-size="8.3">OFDM</text><path d="M285.6 371.49H297.6" stroke="#2a2af4" stroke-width="1" stroke-dasharray="4.2 3"/><text transform="translate(299.8 374.29) scale(1 1)" font-size="8.3">LFM</text><path d="M285.6 383.12H297.6" stroke="#3c3c3c" stroke-width="1" stroke-dasharray="4.2 3"/><text transform="translate(299.8 385.92) scale(1 1)" font-size="8.3">MSK</text>
<text x="-0.2" y="217" font-size="16.8" font-weight="bold" style="stroke:#000;stroke-width:0.4px;fill:#000">b</text>
<path d="M373.4 7.3V177.3M426.2 7.3V177.3M479 7.3V177.3M531.8 7.3V177.3M584.6 7.3V177.3M637.4 7.3V177.3M362.84 8.4H637.4M362.84 27.5H637.4M362.84 46.6H637.4M362.84 65.7H637.4M362.84 84.8H637.4M362.84 103.9H637.4M362.84 123H637.4M362.84 142.1H637.4M362.84 161.2H637.4" stroke="#ececec" stroke-width="0.8" fill="none"/>
<clipPath id="clipc"><rect x="359.84" y="4.3" width="280.56" height="173"/></clipPath>
<g clip-path="url(#clipc)"><polyline points="362.84,48.89 383.96,43.16 405.08,42.02 426.2,40.11 447.32,35.9 468.44,33.61 489.56,32.08 510.68,29.41 531.8,28.26 552.92,28.26 574.04,28.65 595.16,29.41 616.28,30.17 637.4,30.56" fill="none" stroke="#f80bd8" stroke-width="1.0" stroke-linejoin="round"/><circle cx="362.84" cy="48.89" r="1.8" fill="#fff" fill-opacity="0.55" stroke="#f80bd8" stroke-width="0.9"/><circle cx="383.96" cy="43.16" r="1.8" fill="#fff" fill-opacity="0.55" stroke="#f80bd8" stroke-width="0.9"/><circle cx="405.08" cy="42.02" r="1.8" fill="#fff" fill-opacity="0.55" stroke="#f80bd8" stroke-width="0.9"/><circle cx="426.2" cy="40.11" r="1.8" fill="#fff" fill-opacity="0.55" stroke="#f80bd8" stroke-width="0.9"/><circle cx="447.32" cy="35.9" r="1.8" fill="#fff" fill-opacity="0.55" stroke="#f80bd8" stroke-width="0.9"/><circle cx="468.44" cy="33.61" r="1.8" fill="#fff" fill-opacity="0.55" stroke="#f80bd8" stroke-width="0.9"/><circle cx="489.56" cy="32.08" r="1.8" fill="#fff" fill-opacity="0.55" stroke="#f80bd8" stroke-width="0.9"/><circle cx="510.68" cy="29.41" r="1.8" fill="#fff" fill-opacity="0.55" stroke="#f80bd8" stroke-width="0.9"/><circle cx="531.8" cy="28.26" r="1.8" fill="#fff" fill-opacity="0.55" stroke="#f80bd8" stroke-width="0.9"/><circle cx="552.92" cy="28.26" r="1.8" fill="#fff" fill-opacity="0.55" stroke="#f80bd8" stroke-width="0.9"/><circle cx="574.04" cy="28.65" r="1.8" fill="#fff" fill-opacity="0.55" stroke="#f80bd8" stroke-width="0.9"/><circle cx="595.16" cy="29.41" r="1.8" fill="#fff" fill-opacity="0.55" stroke="#f80bd8" stroke-width="0.9"/><circle cx="616.28" cy="30.17" r="1.8" fill="#fff" fill-opacity="0.55" stroke="#f80bd8" stroke-width="0.9"/><circle cx="637.4" cy="30.56" r="1.8" fill="#fff" fill-opacity="0.55" stroke="#f80bd8" stroke-width="0.9"/><polyline points="362.84,56.15 383.96,52.71 405.08,48.13 426.2,43.16 447.32,37.81 468.44,33.61 489.56,31.32 510.68,28.65 531.8,27.5 552.92,27.5 574.04,28.65 595.16,29.41 616.28,30.17 637.4,30.17" fill="none" stroke="#f80bd8" stroke-width="1.0" stroke-linejoin="round"/><path d="M360.94 56.15H364.74M362.84 54.25V58.05" stroke="#f80bd8" stroke-width="0.8"/><path d="M382.06 52.71H385.86M383.96 50.81V54.61" stroke="#f80bd8" stroke-width="0.8"/><path d="M403.18 48.13H406.98M405.08 46.23V50.03" stroke="#f80bd8" stroke-width="0.8"/><path d="M424.3 43.16H428.1M426.2 41.26V45.06" stroke="#f80bd8" stroke-width="0.8"/><path d="M445.42 37.81H449.22M447.32 35.91V39.71" stroke="#f80bd8" stroke-width="0.8"/><path d="M466.54 33.61H470.34M468.44 31.71V35.51" stroke="#f80bd8" stroke-width="0.8"/><path d="M487.66 31.32H491.46M489.56 29.42V33.22" stroke="#f80bd8" stroke-width="0.8"/><path d="M508.78 28.65H512.58M510.68 26.75V30.55" stroke="#f80bd8" stroke-width="0.8"/><path d="M529.9 27.5H533.7M531.8 25.6V29.4" stroke="#f80bd8" stroke-width="0.8"/><path d="M551.02 27.5H554.82M552.92 25.6V29.4" stroke="#f80bd8" stroke-width="0.8"/><path d="M572.14 28.65H575.94M574.04 26.75V30.55" stroke="#f80bd8" stroke-width="0.8"/><path d="M593.26 29.41H597.06M595.16 27.51V31.31" stroke="#f80bd8" stroke-width="0.8"/><path d="M614.38 30.17H618.18M616.28 28.27V32.07" stroke="#f80bd8" stroke-width="0.8"/><path d="M635.5 30.17H639.3M637.4 28.27V32.07" stroke="#f80bd8" stroke-width="0.8"/><polyline points="362.84,62.26 383.96,61.12 405.08,64.17 426.2,68.37 447.32,76.4 468.44,89.38 489.56,100.46 510.68,108.48 531.8,113.07 552.92,115.36 574.04,117.65 595.16,119.56 616.28,121.09 637.4,124.91" fill="none" stroke="#f80bd8" stroke-width="1.0" stroke-linejoin="round"/><circle cx="362.84" cy="62.26" r="1.75" fill="#f80bd8"/><circle cx="383.96" cy="61.12" r="1.75" fill="#f80bd8"/><circle cx="405.08" cy="64.17" r="1.75" fill="#f80bd8"/><circle cx="426.2" cy="68.37" r="1.75" fill="#f80bd8"/><circle cx="447.32" cy="76.4" r="1.75" fill="#f80bd8"/><circle cx="468.44" cy="89.38" r="1.75" fill="#f80bd8"/><circle cx="489.56" cy="100.46" r="1.75" fill="#f80bd8"/><circle cx="510.68" cy="108.48" r="1.75" fill="#f80bd8"/><circle cx="531.8" cy="113.07" r="1.75" fill="#f80bd8"/><circle cx="552.92" cy="115.36" r="1.75" fill="#f80bd8"/><circle cx="574.04" cy="117.65" r="1.75" fill="#f80bd8"/><circle cx="595.16" cy="119.56" r="1.75" fill="#f80bd8"/><circle cx="616.28" cy="121.09" r="1.75" fill="#f80bd8"/><circle cx="637.4" cy="124.91" r="1.75" fill="#f80bd8"/><polyline points="362.84,45.84 383.96,39.34 405.08,39.34 426.2,39.34 447.32,41.25 468.44,41.25 489.56,41.25 510.68,41.63 531.8,41.63 552.92,41.63 574.04,41.63 595.16,41.63 616.28,41.63 637.4,41.63" fill="none" stroke="#8a2fe0" stroke-width="1.0" stroke-linejoin="round"/><circle cx="362.84" cy="45.84" r="1.8" fill="#fff" fill-opacity="0.55" stroke="#8a2fe0" stroke-width="0.9"/><circle cx="383.96" cy="39.34" r="1.8" fill="#fff" fill-opacity="0.55" stroke="#8a2fe0" stroke-width="0.9"/><circle cx="405.08" cy="39.34" r="1.8" fill="#fff" fill-opacity="0.55" stroke="#8a2fe0" stroke-width="0.9"/><circle cx="426.2" cy="39.34" r="1.8" fill="#fff" fill-opacity="0.55" stroke="#8a2fe0" stroke-width="0.9"/><circle cx="447.32" cy="41.25" r="1.8" fill="#fff" fill-opacity="0.55" stroke="#8a2fe0" stroke-width="0.9"/><circle cx="468.44" cy="41.25" r="1.8" fill="#fff" fill-opacity="0.55" stroke="#8a2fe0" stroke-width="0.9"/><circle cx="489.56" cy="41.25" r="1.8" fill="#fff" fill-opacity="0.55" stroke="#8a2fe0" stroke-width="0.9"/><circle cx="510.68" cy="41.63" r="1.8" fill="#fff" fill-opacity="0.55" stroke="#8a2fe0" stroke-width="0.9"/><circle cx="531.8" cy="41.63" r="1.8" fill="#fff" fill-opacity="0.55" stroke="#8a2fe0" stroke-width="0.9"/><circle cx="552.92" cy="41.63" r="1.8" fill="#fff" fill-opacity="0.55" stroke="#8a2fe0" stroke-width="0.9"/><circle cx="574.04" cy="41.63" r="1.8" fill="#fff" fill-opacity="0.55" stroke="#8a2fe0" stroke-width="0.9"/><circle cx="595.16" cy="41.63" r="1.8" fill="#fff" fill-opacity="0.55" stroke="#8a2fe0" stroke-width="0.9"/><circle cx="616.28" cy="41.63" r="1.8" fill="#fff" fill-opacity="0.55" stroke="#8a2fe0" stroke-width="0.9"/><circle cx="637.4" cy="41.63" r="1.8" fill="#fff" fill-opacity="0.55" stroke="#8a2fe0" stroke-width="0.9"/><polyline points="362.84,94.35 383.96,111.54 405.08,121.47 426.2,126.44 447.32,126.44 468.44,124.91 489.56,123.38 510.68,122.24 531.8,121.47 552.92,121.09 574.04,121.09 595.16,121.47 616.28,120.71 637.4,119.94" fill="none" stroke="#8a2fe0" stroke-width="1.0" stroke-linejoin="round"/><path d="M360.94 94.35H364.74M362.84 92.45V96.25" stroke="#8a2fe0" stroke-width="0.8"/><path d="M382.06 111.54H385.86M383.96 109.64V113.44" stroke="#8a2fe0" stroke-width="0.8"/><path d="M403.18 121.47H406.98M405.08 119.57V123.37" stroke="#8a2fe0" stroke-width="0.8"/><path d="M424.3 126.44H428.1M426.2 124.54V128.34" stroke="#8a2fe0" stroke-width="0.8"/><path d="M445.42 126.44H449.22M447.32 124.54V128.34" stroke="#8a2fe0" stroke-width="0.8"/><path d="M466.54 124.91H470.34M468.44 123.01V126.81" stroke="#8a2fe0" stroke-width="0.8"/><path d="M487.66 123.38H491.46M489.56 121.48V125.28" stroke="#8a2fe0" stroke-width="0.8"/><path d="M508.78 122.24H512.58M510.68 120.34V124.14" stroke="#8a2fe0" stroke-width="0.8"/><path d="M529.9 121.47H533.7M531.8 119.57V123.37" stroke="#8a2fe0" stroke-width="0.8"/><path d="M551.02 121.09H554.82M552.92 119.19V122.99" stroke="#8a2fe0" stroke-width="0.8"/><path d="M572.14 121.09H575.94M574.04 119.19V122.99" stroke="#8a2fe0" stroke-width="0.8"/><path d="M593.26 121.47H597.06M595.16 119.57V123.37" stroke="#8a2fe0" stroke-width="0.8"/><path d="M614.38 120.71H618.18M616.28 118.81V122.61" stroke="#8a2fe0" stroke-width="0.8"/><path d="M635.5 119.94H639.3M637.4 118.04V121.84" stroke="#8a2fe0" stroke-width="0.8"/><polyline points="362.84,93.2 383.96,110.39 405.08,119.18 426.2,119.18 447.32,116.51 468.44,116.12 489.56,113.83 510.68,113.45 531.8,113.07 552.92,112.3 574.04,111.54 595.16,111.54 616.28,111.54 637.4,111.54" fill="none" stroke="#8a2fe0" stroke-width="1.0" stroke-linejoin="round"/><circle cx="362.84" cy="93.2" r="1.75" fill="#8a2fe0"/><circle cx="383.96" cy="110.39" r="1.75" fill="#8a2fe0"/><circle cx="405.08" cy="119.18" r="1.75" fill="#8a2fe0"/><circle cx="426.2" cy="119.18" r="1.75" fill="#8a2fe0"/><circle cx="447.32" cy="116.51" r="1.75" fill="#8a2fe0"/><circle cx="468.44" cy="116.12" r="1.75" fill="#8a2fe0"/><circle cx="489.56" cy="113.83" r="1.75" fill="#8a2fe0"/><circle cx="510.68" cy="113.45" r="1.75" fill="#8a2fe0"/><circle cx="531.8" cy="113.07" r="1.75" fill="#8a2fe0"/><circle cx="552.92" cy="112.3" r="1.75" fill="#8a2fe0"/><circle cx="574.04" cy="111.54" r="1.75" fill="#8a2fe0"/><circle cx="595.16" cy="111.54" r="1.75" fill="#8a2fe0"/><circle cx="616.28" cy="111.54" r="1.75" fill="#8a2fe0"/><circle cx="637.4" cy="111.54" r="1.75" fill="#8a2fe0"/><polyline points="362.84,66.46 383.96,73.72 405.08,77.92 426.2,77.92 447.32,77.54 468.44,76.78 489.56,75.25 510.68,74.49 531.8,73.34 552.92,72.58 574.04,71.81 595.16,71.81 616.28,71.05 637.4,71.05" fill="none" stroke="#e63a55" stroke-width="1.0" stroke-linejoin="round"/><circle cx="362.84" cy="66.46" r="1.8" fill="#fff" fill-opacity="0.55" stroke="#e63a55" stroke-width="0.9"/><circle cx="383.96" cy="73.72" r="1.8" fill="#fff" fill-opacity="0.55" stroke="#e63a55" stroke-width="0.9"/><circle cx="405.08" cy="77.92" r="1.8" fill="#fff" fill-opacity="0.55" stroke="#e63a55" stroke-width="0.9"/><circle cx="426.2" cy="77.92" r="1.8" fill="#fff" fill-opacity="0.55" stroke="#e63a55" stroke-width="0.9"/><circle cx="447.32" cy="77.54" r="1.8" fill="#fff" fill-opacity="0.55" stroke="#e63a55" stroke-width="0.9"/><circle cx="468.44" cy="76.78" r="1.8" fill="#fff" fill-opacity="0.55" stroke="#e63a55" stroke-width="0.9"/><circle cx="489.56" cy="75.25" r="1.8" fill="#fff" fill-opacity="0.55" stroke="#e63a55" stroke-width="0.9"/><circle cx="510.68" cy="74.49" r="1.8" fill="#fff" fill-opacity="0.55" stroke="#e63a55" stroke-width="0.9"/><circle cx="531.8" cy="73.34" r="1.8" fill="#fff" fill-opacity="0.55" stroke="#e63a55" stroke-width="0.9"/><circle cx="552.92" cy="72.58" r="1.8" fill="#fff" fill-opacity="0.55" stroke="#e63a55" stroke-width="0.9"/><circle cx="574.04" cy="71.81" r="1.8" fill="#fff" fill-opacity="0.55" stroke="#e63a55" stroke-width="0.9"/><circle cx="595.16" cy="71.81" r="1.8" fill="#fff" fill-opacity="0.55" stroke="#e63a55" stroke-width="0.9"/><circle cx="616.28" cy="71.05" r="1.8" fill="#fff" fill-opacity="0.55" stroke="#e63a55" stroke-width="0.9"/><circle cx="637.4" cy="71.05" r="1.8" fill="#fff" fill-opacity="0.55" stroke="#e63a55" stroke-width="0.9"/><polyline points="362.84,56.91 383.96,59.59 405.08,59.97 426.2,59.97 447.32,59.97 468.44,59.59 489.56,59.21 510.68,58.82 531.8,58.44 552.92,58.44 574.04,58.06 595.16,58.06 616.28,58.06 637.4,57.68" fill="none" stroke="#e63a55" stroke-width="1.0" stroke-linejoin="round"/><path d="M360.94 56.91H364.74M362.84 55.01V58.81" stroke="#e63a55" stroke-width="0.8"/><path d="M382.06 59.59H385.86M383.96 57.69V61.49" stroke="#e63a55" stroke-width="0.8"/><path d="M403.18 59.97H406.98M405.08 58.07V61.87" stroke="#e63a55" stroke-width="0.8"/><path d="M424.3 59.97H428.1M426.2 58.07V61.87" stroke="#e63a55" stroke-width="0.8"/><path d="M445.42 59.97H449.22M447.32 58.07V61.87" stroke="#e63a55" stroke-width="0.8"/><path d="M466.54 59.59H470.34M468.44 57.69V61.49" stroke="#e63a55" stroke-width="0.8"/><path d="M487.66 59.21H491.46M489.56 57.31V61.11" stroke="#e63a55" stroke-width="0.8"/><path d="M508.78 58.82H512.58M510.68 56.92V60.72" stroke="#e63a55" stroke-width="0.8"/><path d="M529.9 58.44H533.7M531.8 56.54V60.34" stroke="#e63a55" stroke-width="0.8"/><path d="M551.02 58.44H554.82M552.92 56.54V60.34" stroke="#e63a55" stroke-width="0.8"/><path d="M572.14 58.06H575.94M574.04 56.16V59.96" stroke="#e63a55" stroke-width="0.8"/><path d="M593.26 58.06H597.06M595.16 56.16V59.96" stroke="#e63a55" stroke-width="0.8"/><path d="M614.38 58.06H618.18M616.28 56.16V59.96" stroke="#e63a55" stroke-width="0.8"/><path d="M635.5 57.68H639.3M637.4 55.78V59.58" stroke="#e63a55" stroke-width="0.8"/><polyline points="362.84,43.16 383.96,35.52 405.08,31.32 426.2,30.56 447.32,29.98 468.44,29.98 489.56,29.98 510.68,29.79 531.8,29.79 552.92,29.79 574.04,29.79 595.16,29.79 616.28,30.56 637.4,30.56" fill="none" stroke="#e63a55" stroke-width="1.0" stroke-linejoin="round"/><circle cx="362.84" cy="43.16" r="1.75" fill="#e63a55"/><circle cx="383.96" cy="35.52" r="1.75" fill="#e63a55"/><circle cx="405.08" cy="31.32" r="1.75" fill="#e63a55"/><circle cx="426.2" cy="30.56" r="1.75" fill="#e63a55"/><circle cx="447.32" cy="29.98" r="1.75" fill="#e63a55"/><circle cx="468.44" cy="29.98" r="1.75" fill="#e63a55"/><circle cx="489.56" cy="29.98" r="1.75" fill="#e63a55"/><circle cx="510.68" cy="29.79" r="1.75" fill="#e63a55"/><circle cx="531.8" cy="29.79" r="1.75" fill="#e63a55"/><circle cx="552.92" cy="29.79" r="1.75" fill="#e63a55"/><circle cx="574.04" cy="29.79" r="1.75" fill="#e63a55"/><circle cx="595.16" cy="29.79" r="1.75" fill="#e63a55"/><circle cx="616.28" cy="30.56" r="1.75" fill="#e63a55"/><circle cx="637.4" cy="30.56" r="1.75" fill="#e63a55"/><polyline points="362.84,45.84 383.96,43.54 405.08,44.88 426.2,45.45 447.32,45.45 468.44,45.45 489.56,44.31 510.68,44.69 531.8,43.93 552.92,43.54 574.04,42.4 595.16,42.02 616.28,42.02 637.4,42.02" fill="none" stroke="#a07a90" stroke-width="1.0" stroke-linejoin="round"/><circle cx="362.84" cy="45.84" r="1.8" fill="#fff" fill-opacity="0.55" stroke="#a07a90" stroke-width="0.9"/><circle cx="383.96" cy="43.54" r="1.8" fill="#fff" fill-opacity="0.55" stroke="#a07a90" stroke-width="0.9"/><circle cx="405.08" cy="44.88" r="1.8" fill="#fff" fill-opacity="0.55" stroke="#a07a90" stroke-width="0.9"/><circle cx="426.2" cy="45.45" r="1.8" fill="#fff" fill-opacity="0.55" stroke="#a07a90" stroke-width="0.9"/><circle cx="447.32" cy="45.45" r="1.8" fill="#fff" fill-opacity="0.55" stroke="#a07a90" stroke-width="0.9"/><circle cx="468.44" cy="45.45" r="1.8" fill="#fff" fill-opacity="0.55" stroke="#a07a90" stroke-width="0.9"/><circle cx="489.56" cy="44.31" r="1.8" fill="#fff" fill-opacity="0.55" stroke="#a07a90" stroke-width="0.9"/><circle cx="510.68" cy="44.69" r="1.8" fill="#fff" fill-opacity="0.55" stroke="#a07a90" stroke-width="0.9"/><circle cx="531.8" cy="43.93" r="1.8" fill="#fff" fill-opacity="0.55" stroke="#a07a90" stroke-width="0.9"/><circle cx="552.92" cy="43.54" r="1.8" fill="#fff" fill-opacity="0.55" stroke="#a07a90" stroke-width="0.9"/><circle cx="574.04" cy="42.4" r="1.8" fill="#fff" fill-opacity="0.55" stroke="#a07a90" stroke-width="0.9"/><circle cx="595.16" cy="42.02" r="1.8" fill="#fff" fill-opacity="0.55" stroke="#a07a90" stroke-width="0.9"/><circle cx="616.28" cy="42.02" r="1.8" fill="#fff" fill-opacity="0.55" stroke="#a07a90" stroke-width="0.9"/><circle cx="637.4" cy="42.02" r="1.8" fill="#fff" fill-opacity="0.55" stroke="#a07a90" stroke-width="0.9"/><polyline points="362.84,93.97 383.96,105.81 405.08,113.45 426.2,117.27 447.32,119.18 468.44,120.71 489.56,122.62 510.68,124.15 531.8,126.82 552.92,127.2 574.04,130.26 595.16,130.64 616.28,131.79 637.4,133.31" fill="none" stroke="#a07a90" stroke-width="1.0" stroke-linejoin="round"/><path d="M360.94 93.97H364.74M362.84 92.07V95.87" stroke="#a07a90" stroke-width="0.8"/><path d="M382.06 105.81H385.86M383.96 103.91V107.71" stroke="#a07a90" stroke-width="0.8"/><path d="M403.18 113.45H406.98M405.08 111.55V115.35" stroke="#a07a90" stroke-width="0.8"/><path d="M424.3 117.27H428.1M426.2 115.37V119.17" stroke="#a07a90" stroke-width="0.8"/><path d="M445.42 119.18H449.22M447.32 117.28V121.08" stroke="#a07a90" stroke-width="0.8"/><path d="M466.54 120.71H470.34M468.44 118.81V122.61" stroke="#a07a90" stroke-width="0.8"/><path d="M487.66 122.62H491.46M489.56 120.72V124.52" stroke="#a07a90" stroke-width="0.8"/><path d="M508.78 124.15H512.58M510.68 122.25V126.05" stroke="#a07a90" stroke-width="0.8"/><path d="M529.9 126.82H533.7M531.8 124.92V128.72" stroke="#a07a90" stroke-width="0.8"/><path d="M551.02 127.2H554.82M552.92 125.3V129.1" stroke="#a07a90" stroke-width="0.8"/><path d="M572.14 130.26H575.94M574.04 128.36V132.16" stroke="#a07a90" stroke-width="0.8"/><path d="M593.26 130.64H597.06M595.16 128.74V132.54" stroke="#a07a90" stroke-width="0.8"/><path d="M614.38 131.79H618.18M616.28 129.89V133.69" stroke="#a07a90" stroke-width="0.8"/><path d="M635.5 133.31H639.3M637.4 131.41V135.21" stroke="#a07a90" stroke-width="0.8"/><polyline points="362.84,84.8 383.96,94.73 405.08,107.34 426.2,123.38 447.32,136.75 468.44,148.59 489.56,154.71 510.68,158.53 531.8,158.14 552.92,155.47 574.04,154.71 595.16,153.18 616.28,149.36 637.4,148.21" fill="none" stroke="#a07a90" stroke-width="1.0" stroke-linejoin="round"/><circle cx="362.84" cy="84.8" r="1.75" fill="#a07a90"/><circle cx="383.96" cy="94.73" r="1.75" fill="#a07a90"/><circle cx="405.08" cy="107.34" r="1.75" fill="#a07a90"/><circle cx="426.2" cy="123.38" r="1.75" fill="#a07a90"/><circle cx="447.32" cy="136.75" r="1.75" fill="#a07a90"/><circle cx="468.44" cy="148.59" r="1.75" fill="#a07a90"/><circle cx="489.56" cy="154.71" r="1.75" fill="#a07a90"/><circle cx="510.68" cy="158.53" r="1.75" fill="#a07a90"/><circle cx="531.8" cy="158.14" r="1.75" fill="#a07a90"/><circle cx="552.92" cy="155.47" r="1.75" fill="#a07a90"/><circle cx="574.04" cy="154.71" r="1.75" fill="#a07a90"/><circle cx="595.16" cy="153.18" r="1.75" fill="#a07a90"/><circle cx="616.28" cy="149.36" r="1.75" fill="#a07a90"/><circle cx="637.4" cy="148.21" r="1.75" fill="#a07a90"/><polyline points="362.84,92.82 383.96,98.93 405.08,104.28 426.2,104.66 447.32,104.66 468.44,104.66 489.56,105.05 510.68,105.81 531.8,106.19 552.92,106.19 574.04,106.57 595.16,106.96 616.28,106.96 637.4,107.34" fill="none" stroke="#f23cf0" stroke-width="1.3" stroke-dasharray="4.4 2.4"/><polyline points="362.84,55.77 383.96,51.57 405.08,47.36 426.2,46.98 447.32,47.36 468.44,47.75 489.56,47.75 510.68,48.13 531.8,48.13 552.92,48.13 574.04,48.13 595.16,48.51 616.28,48.51 637.4,48.51" fill="none" stroke="#2a2af4" stroke-width="1.3" stroke-dasharray="4.4 2.4"/><polyline points="362.84,36.67 383.96,30.17 405.08,26.16 426.2,27.5 447.32,29.6 468.44,31.32 489.56,32.47 510.68,33.61 531.8,33.99 552.92,34.38 574.04,34.76 595.16,35.14 616.28,35.14 637.4,35.14" fill="none" stroke="#3c3c3c" stroke-width="1.1" stroke-dasharray="4.4 2.4"/></g>
<path d="M362.84 7.3V177.8" stroke="#b4b4b4" stroke-width="1.6"/>
<path d="M362.34 177.3H637.4" stroke="#555555" stroke-width="1"/>
<path d="M373.4 177.3v-2.5M426.2 177.3v-2.5M479 177.3v-2.5M531.8 177.3v-2.5M584.6 177.3v-2.5M637.4 177.3v-2.5M362.84 8.4h3M362.84 27.5h3M362.84 46.6h3M362.84 65.7h3M362.84 84.8h3M362.84 103.9h3M362.84 123h3M362.84 142.1h3M362.84 161.2h3" stroke="#555555" stroke-width="0.8"/>
<g font-size="8.7"><text transform="translate(372.8 188.2) scale(0.95 1)" text-anchor="middle">-5</text><text transform="translate(425.6 188.2) scale(0.95 1)" text-anchor="middle">0</text><text transform="translate(478.4 188.2) scale(0.95 1)" text-anchor="middle">5</text><text transform="translate(531.2 188.2) scale(0.95 1)" text-anchor="middle">10</text><text transform="translate(584 188.2) scale(0.95 1)" text-anchor="middle">15</text><text transform="translate(636.8 188.2) scale(0.95 1)" text-anchor="middle">20</text><text transform="translate(358.04 11.3) scale(0.95 1)" text-anchor="end">0.5</text><text transform="translate(358.74 30.4) scale(0.95 1)" text-anchor="end">0</text><text transform="translate(358.04 49.5) scale(0.95 1)" text-anchor="end">-0.5</text><text transform="translate(358.74 68.6) scale(0.95 1)" text-anchor="end">-1</text><text transform="translate(358.04 87.7) scale(0.95 1)" text-anchor="end">-1.5</text><text transform="translate(358.74 106.8) scale(0.95 1)" text-anchor="end">-2</text><text transform="translate(358.04 125.9) scale(0.95 1)" text-anchor="end">-2.5</text><text transform="translate(358.74 145) scale(0.95 1)" text-anchor="end">-3</text><text transform="translate(358.04 164.1) scale(0.95 1)" text-anchor="end">-3.5</text></g>
<text transform="translate(498.82 200.2) scale(1.06 1)" font-size="8.8" text-anchor="middle">SNR<tspan font-size="7" font-style="italic" dx="0.3" dy="4">te</tspan><tspan dx="1.3" dy="-4"> (dB)</tspan></text>
<path d="M640.2 7.7H653.6" stroke="#f80bd8" stroke-width="0.8"/><circle cx="646.9" cy="7.7" r="1.8" fill="#fff" fill-opacity="0.55" stroke="#f80bd8" stroke-width="0.9"/><text transform="translate(655 10.5) scale(1.06 1)" font-size="8.3">2ASK</text><path d="M640.2 19.78H653.6" stroke="#f80bd8" stroke-width="0.8"/><path d="M645 19.78H648.8M646.9 17.88V21.68" stroke="#f80bd8" stroke-width="0.8"/><text transform="translate(655 22.58) scale(1.06 1)" font-size="8.3">4ASK</text><path d="M640.2 31.86H653.6" stroke="#f80bd8" stroke-width="0.8"/><circle cx="646.9" cy="31.86" r="1.75" fill="#f80bd8"/><text transform="translate(655 34.66) scale(1.06 1)" font-size="8.3">8ASK</text><path d="M640.2 43.94H653.6" stroke="#8a2fe0" stroke-width="0.8"/><circle cx="646.9" cy="43.94" r="1.8" fill="#fff" fill-opacity="0.55" stroke="#8a2fe0" stroke-width="0.9"/><text transform="translate(655 46.74) scale(1.06 1)" font-size="8.3">2FSK</text><path d="M640.2 56.02H653.6" stroke="#8a2fe0" stroke-width="0.8"/><path d="M645 56.02H648.8M646.9 54.12V57.92" stroke="#8a2fe0" stroke-width="0.8"/><text transform="translate(655 58.82) scale(1.06 1)" font-size="8.3">4FSK</text><path d="M640.2 68.1H653.6" stroke="#8a2fe0" stroke-width="0.8"/><circle cx="646.9" cy="68.1" r="1.75" fill="#8a2fe0"/><text transform="translate(655 70.9) scale(1.06 1)" font-size="8.3">8FSK</text><path d="M640.2 80.18H653.6" stroke="#e63a55" stroke-width="0.8"/><circle cx="646.9" cy="80.18" r="1.8" fill="#fff" fill-opacity="0.55" stroke="#e63a55" stroke-width="0.9"/><text transform="translate(655 82.98) scale(1.06 1)" font-size="8.3">2PSK</text><path d="M640.2 92.26H653.6" stroke="#e63a55" stroke-width="0.8"/><path d="M645 92.26H648.8M646.9 90.36V94.16" stroke="#e63a55" stroke-width="0.8"/><text transform="translate(655 95.06) scale(1.06 1)" font-size="8.3">4PSK</text><path d="M640.2 104.34H653.6" stroke="#e63a55" stroke-width="0.8"/><circle cx="646.9" cy="104.34" r="1.75" fill="#e63a55"/><text transform="translate(655 107.14) scale(1.06 1)" font-size="8.3">8PSK</text><path d="M640.2 116.42H653.6" stroke="#a07a90" stroke-width="0.8"/><circle cx="646.9" cy="116.42" r="1.8" fill="#fff" fill-opacity="0.55" stroke="#a07a90" stroke-width="0.9"/><text transform="translate(655 119.22) scale(1.06 1)" font-size="8.3">4QAM</text><path d="M640.2 128.5H653.6" stroke="#a07a90" stroke-width="0.8"/><path d="M645 128.5H648.8M646.9 126.6V130.4" stroke="#a07a90" stroke-width="0.8"/><text transform="translate(655 131.3) scale(1.06 1)" font-size="8.3">16QAM</text><path d="M640.2 140.58H653.6" stroke="#a07a90" stroke-width="0.8"/><circle cx="646.9" cy="140.58" r="1.75" fill="#a07a90"/><text transform="translate(655 143.38) scale(1.06 1)" font-size="8.3">64QAM</text><path d="M640.2 152.66H653.6" stroke="#f23cf0" stroke-width="1" stroke-dasharray="4.2 3"/><text transform="translate(655 155.46) scale(1.06 1)" font-size="8.3">OFDM</text><path d="M640.2 164.74H653.6" stroke="#2a2af4" stroke-width="1" stroke-dasharray="4.2 3"/><text transform="translate(655 167.54) scale(1.06 1)" font-size="8.3">LFM</text><path d="M640.2 176.82H653.6" stroke="#3c3c3c" stroke-width="1" stroke-dasharray="4.2 3"/><text transform="translate(655 179.62) scale(1.06 1)" font-size="8.3">MSK</text>
<text x="330.9" y="9.6" font-size="16.8" font-weight="bold" style="stroke:#000;stroke-width:0.4px;fill:#000">c</text>
<path d="M373.35 212.3V383.2M426.4 212.3V383.2M479.45 212.3V383.2M532.5 212.3V383.2M585.55 212.3V383.2M638.6 212.3V383.2M362.74 225.1H638.6M362.74 245.89H638.6M362.74 266.67H638.6M362.74 287.46H638.6M362.74 308.24H638.6M362.74 329.03H638.6M362.74 349.81H638.6M362.74 370.6H638.6" stroke="#ececec" stroke-width="0.8" fill="none"/>
<clipPath id="clipd"><rect x="359.74" y="209.3" width="281.86" height="173.9"/></clipPath>
<g clip-path="url(#clipd)"><polyline points="362.74,259.19 383.96,257.11 405.18,256.28 426.4,256.28 447.62,256.28 468.84,256.28 490.06,256.69 511.28,257.52 532.5,257.52 553.72,257.52 574.94,257.52 596.16,257.52 617.38,257.94 638.6,257.94" fill="none" stroke="#f80bd8" stroke-width="1.0" stroke-linejoin="round"/><circle cx="362.74" cy="259.19" r="1.8" fill="#fff" fill-opacity="0.55" stroke="#f80bd8" stroke-width="0.9"/><circle cx="383.96" cy="257.11" r="1.8" fill="#fff" fill-opacity="0.55" stroke="#f80bd8" stroke-width="0.9"/><circle cx="405.18" cy="256.28" r="1.8" fill="#fff" fill-opacity="0.55" stroke="#f80bd8" stroke-width="0.9"/><circle cx="426.4" cy="256.28" r="1.8" fill="#fff" fill-opacity="0.55" stroke="#f80bd8" stroke-width="0.9"/><circle cx="447.62" cy="256.28" r="1.8" fill="#fff" fill-opacity="0.55" stroke="#f80bd8" stroke-width="0.9"/><circle cx="468.84" cy="256.28" r="1.8" fill="#fff" fill-opacity="0.55" stroke="#f80bd8" stroke-width="0.9"/><circle cx="490.06" cy="256.69" r="1.8" fill="#fff" fill-opacity="0.55" stroke="#f80bd8" stroke-width="0.9"/><circle cx="511.28" cy="257.52" r="1.8" fill="#fff" fill-opacity="0.55" stroke="#f80bd8" stroke-width="0.9"/><circle cx="532.5" cy="257.52" r="1.8" fill="#fff" fill-opacity="0.55" stroke="#f80bd8" stroke-width="0.9"/><circle cx="553.72" cy="257.52" r="1.8" fill="#fff" fill-opacity="0.55" stroke="#f80bd8" stroke-width="0.9"/><circle cx="574.94" cy="257.52" r="1.8" fill="#fff" fill-opacity="0.55" stroke="#f80bd8" stroke-width="0.9"/><circle cx="596.16" cy="257.52" r="1.8" fill="#fff" fill-opacity="0.55" stroke="#f80bd8" stroke-width="0.9"/><circle cx="617.38" cy="257.94" r="1.8" fill="#fff" fill-opacity="0.55" stroke="#f80bd8" stroke-width="0.9"/><circle cx="638.6" cy="257.94" r="1.8" fill="#fff" fill-opacity="0.55" stroke="#f80bd8" stroke-width="0.9"/><polyline points="362.74,292.44 383.96,297.43 405.18,303.67 426.4,310.32 447.62,319.46 468.84,324.04 490.06,329.03 511.28,331.52 532.5,331.93 553.72,331.93 574.94,331.1 596.16,330.27 617.38,329.44 638.6,328.19" fill="none" stroke="#f80bd8" stroke-width="1.0" stroke-linejoin="round"/><path d="M360.84 292.44H364.64M362.74 290.54V294.34" stroke="#f80bd8" stroke-width="0.8"/><path d="M382.06 297.43H385.86M383.96 295.53V299.33" stroke="#f80bd8" stroke-width="0.8"/><path d="M403.28 303.67H407.08M405.18 301.77V305.57" stroke="#f80bd8" stroke-width="0.8"/><path d="M424.5 310.32H428.3M426.4 308.42V312.22" stroke="#f80bd8" stroke-width="0.8"/><path d="M445.72 319.46H449.52M447.62 317.56V321.36" stroke="#f80bd8" stroke-width="0.8"/><path d="M466.94 324.04H470.74M468.84 322.14V325.94" stroke="#f80bd8" stroke-width="0.8"/><path d="M488.16 329.03H491.96M490.06 327.13V330.93" stroke="#f80bd8" stroke-width="0.8"/><path d="M509.38 331.52H513.18M511.28 329.62V333.42" stroke="#f80bd8" stroke-width="0.8"/><path d="M530.6 331.93H534.4M532.5 330.03V333.83" stroke="#f80bd8" stroke-width="0.8"/><path d="M551.82 331.93H555.62M553.72 330.03V333.83" stroke="#f80bd8" stroke-width="0.8"/><path d="M573.04 331.1H576.84M574.94 329.2V333" stroke="#f80bd8" stroke-width="0.8"/><path d="M594.26 330.27H598.06M596.16 328.37V332.17" stroke="#f80bd8" stroke-width="0.8"/><path d="M615.48 329.44H619.28M617.38 327.54V331.34" stroke="#f80bd8" stroke-width="0.8"/><path d="M636.7 328.19H640.5M638.6 326.29V330.09" stroke="#f80bd8" stroke-width="0.8"/><polyline points="362.74,292.44 383.96,297.43 405.18,303.67 426.4,310.32 447.62,316.55 468.84,319.46 490.06,320.71 511.28,321.13 532.5,320.3 553.72,319.88 574.94,318.22 596.16,316.14 617.38,312.4 638.6,310.32" fill="none" stroke="#f80bd8" stroke-width="1.0" stroke-linejoin="round"/><circle cx="362.74" cy="292.44" r="1.75" fill="#f80bd8"/><circle cx="383.96" cy="297.43" r="1.75" fill="#f80bd8"/><circle cx="405.18" cy="303.67" r="1.75" fill="#f80bd8"/><circle cx="426.4" cy="310.32" r="1.75" fill="#f80bd8"/><circle cx="447.62" cy="316.55" r="1.75" fill="#f80bd8"/><circle cx="468.84" cy="319.46" r="1.75" fill="#f80bd8"/><circle cx="490.06" cy="320.71" r="1.75" fill="#f80bd8"/><circle cx="511.28" cy="321.13" r="1.75" fill="#f80bd8"/><circle cx="532.5" cy="320.3" r="1.75" fill="#f80bd8"/><circle cx="553.72" cy="319.88" r="1.75" fill="#f80bd8"/><circle cx="574.94" cy="318.22" r="1.75" fill="#f80bd8"/><circle cx="596.16" cy="316.14" r="1.75" fill="#f80bd8"/><circle cx="617.38" cy="312.4" r="1.75" fill="#f80bd8"/><circle cx="638.6" cy="310.32" r="1.75" fill="#f80bd8"/><polyline points="362.74,240.48 383.96,240.48 405.18,242.98 426.4,244.64 447.62,245.47 468.84,245.89 490.06,245.89 511.28,246.3 532.5,246.3 553.72,246.3 574.94,246.3 596.16,246.3 617.38,246.3 638.6,246.3" fill="none" stroke="#8a2fe0" stroke-width="1.0" stroke-linejoin="round"/><circle cx="362.74" cy="240.48" r="1.8" fill="#fff" fill-opacity="0.55" stroke="#8a2fe0" stroke-width="0.9"/><circle cx="383.96" cy="240.48" r="1.8" fill="#fff" fill-opacity="0.55" stroke="#8a2fe0" stroke-width="0.9"/><circle cx="405.18" cy="242.98" r="1.8" fill="#fff" fill-opacity="0.55" stroke="#8a2fe0" stroke-width="0.9"/><circle cx="426.4" cy="244.64" r="1.8" fill="#fff" fill-opacity="0.55" stroke="#8a2fe0" stroke-width="0.9"/><circle cx="447.62" cy="245.47" r="1.8" fill="#fff" fill-opacity="0.55" stroke="#8a2fe0" stroke-width="0.9"/><circle cx="468.84" cy="245.89" r="1.8" fill="#fff" fill-opacity="0.55" stroke="#8a2fe0" stroke-width="0.9"/><circle cx="490.06" cy="245.89" r="1.8" fill="#fff" fill-opacity="0.55" stroke="#8a2fe0" stroke-width="0.9"/><circle cx="511.28" cy="246.3" r="1.8" fill="#fff" fill-opacity="0.55" stroke="#8a2fe0" stroke-width="0.9"/><circle cx="532.5" cy="246.3" r="1.8" fill="#fff" fill-opacity="0.55" stroke="#8a2fe0" stroke-width="0.9"/><circle cx="553.72" cy="246.3" r="1.8" fill="#fff" fill-opacity="0.55" stroke="#8a2fe0" stroke-width="0.9"/><circle cx="574.94" cy="246.3" r="1.8" fill="#fff" fill-opacity="0.55" stroke="#8a2fe0" stroke-width="0.9"/><circle cx="596.16" cy="246.3" r="1.8" fill="#fff" fill-opacity="0.55" stroke="#8a2fe0" stroke-width="0.9"/><circle cx="617.38" cy="246.3" r="1.8" fill="#fff" fill-opacity="0.55" stroke="#8a2fe0" stroke-width="0.9"/><circle cx="638.6" cy="246.3" r="1.8" fill="#fff" fill-opacity="0.55" stroke="#8a2fe0" stroke-width="0.9"/><polyline points="362.74,246.72 383.96,246.3 405.18,246.3 426.4,246.3 447.62,246.72 468.84,246.72 490.06,246.72 511.28,246.72 532.5,246.72 553.72,246.72 574.94,246.72 596.16,246.72 617.38,246.72 638.6,246.72" fill="none" stroke="#8a2fe0" stroke-width="1.0" stroke-linejoin="round"/><path d="M360.84 246.72H364.64M362.74 244.82V248.62" stroke="#8a2fe0" stroke-width="0.8"/><path d="M382.06 246.3H385.86M383.96 244.4V248.2" stroke="#8a2fe0" stroke-width="0.8"/><path d="M403.28 246.3H407.08M405.18 244.4V248.2" stroke="#8a2fe0" stroke-width="0.8"/><path d="M424.5 246.3H428.3M426.4 244.4V248.2" stroke="#8a2fe0" stroke-width="0.8"/><path d="M445.72 246.72H449.52M447.62 244.82V248.62" stroke="#8a2fe0" stroke-width="0.8"/><path d="M466.94 246.72H470.74M468.84 244.82V248.62" stroke="#8a2fe0" stroke-width="0.8"/><path d="M488.16 246.72H491.96M490.06 244.82V248.62" stroke="#8a2fe0" stroke-width="0.8"/><path d="M509.38 246.72H513.18M511.28 244.82V248.62" stroke="#8a2fe0" stroke-width="0.8"/><path d="M530.6 246.72H534.4M532.5 244.82V248.62" stroke="#8a2fe0" stroke-width="0.8"/><path d="M551.82 246.72H555.62M553.72 244.82V248.62" stroke="#8a2fe0" stroke-width="0.8"/><path d="M573.04 246.72H576.84M574.94 244.82V248.62" stroke="#8a2fe0" stroke-width="0.8"/><path d="M594.26 246.72H598.06M596.16 244.82V248.62" stroke="#8a2fe0" stroke-width="0.8"/><path d="M615.48 246.72H619.28M617.38 244.82V248.62" stroke="#8a2fe0" stroke-width="0.8"/><path d="M636.7 246.72H640.5M638.6 244.82V248.62" stroke="#8a2fe0" stroke-width="0.8"/><polyline points="362.74,240.9 383.96,235.49 405.18,233.41 426.4,233.83 447.62,235.49 468.84,235.91 490.06,236.32 511.28,236.32 532.5,236.32 553.72,236.32 574.94,237.57 596.16,237.57 617.38,237.57 638.6,237.57" fill="none" stroke="#8a2fe0" stroke-width="1.0" stroke-linejoin="round"/><circle cx="362.74" cy="240.9" r="1.75" fill="#8a2fe0"/><circle cx="383.96" cy="235.49" r="1.75" fill="#8a2fe0"/><circle cx="405.18" cy="233.41" r="1.75" fill="#8a2fe0"/><circle cx="426.4" cy="233.83" r="1.75" fill="#8a2fe0"/><circle cx="447.62" cy="235.49" r="1.75" fill="#8a2fe0"/><circle cx="468.84" cy="235.91" r="1.75" fill="#8a2fe0"/><circle cx="490.06" cy="236.32" r="1.75" fill="#8a2fe0"/><circle cx="511.28" cy="236.32" r="1.75" fill="#8a2fe0"/><circle cx="532.5" cy="236.32" r="1.75" fill="#8a2fe0"/><circle cx="553.72" cy="236.32" r="1.75" fill="#8a2fe0"/><circle cx="574.94" cy="237.57" r="1.75" fill="#8a2fe0"/><circle cx="596.16" cy="237.57" r="1.75" fill="#8a2fe0"/><circle cx="617.38" cy="237.57" r="1.75" fill="#8a2fe0"/><circle cx="638.6" cy="237.57" r="1.75" fill="#8a2fe0"/><polyline points="362.74,268.75 383.96,267.09 405.18,267.09 426.4,267.09 447.62,267.09 468.84,267.09 490.06,267.09 511.28,267.5 532.5,267.5 553.72,267.5 574.94,267.5 596.16,267.5 617.38,267.5 638.6,267.5" fill="none" stroke="#e63a55" stroke-width="1.0" stroke-linejoin="round"/><circle cx="362.74" cy="268.75" r="1.8" fill="#fff" fill-opacity="0.55" stroke="#e63a55" stroke-width="0.9"/><circle cx="383.96" cy="267.09" r="1.8" fill="#fff" fill-opacity="0.55" stroke="#e63a55" stroke-width="0.9"/><circle cx="405.18" cy="267.09" r="1.8" fill="#fff" fill-opacity="0.55" stroke="#e63a55" stroke-width="0.9"/><circle cx="426.4" cy="267.09" r="1.8" fill="#fff" fill-opacity="0.55" stroke="#e63a55" stroke-width="0.9"/><circle cx="447.62" cy="267.09" r="1.8" fill="#fff" fill-opacity="0.55" stroke="#e63a55" stroke-width="0.9"/><circle cx="468.84" cy="267.09" r="1.8" fill="#fff" fill-opacity="0.55" stroke="#e63a55" stroke-width="0.9"/><circle cx="490.06" cy="267.09" r="1.8" fill="#fff" fill-opacity="0.55" stroke="#e63a55" stroke-width="0.9"/><circle cx="511.28" cy="267.5" r="1.8" fill="#fff" fill-opacity="0.55" stroke="#e63a55" stroke-width="0.9"/><circle cx="532.5" cy="267.5" r="1.8" fill="#fff" fill-opacity="0.55" stroke="#e63a55" stroke-width="0.9"/><circle cx="553.72" cy="267.5" r="1.8" fill="#fff" fill-opacity="0.55" stroke="#e63a55" stroke-width="0.9"/><circle cx="574.94" cy="267.5" r="1.8" fill="#fff" fill-opacity="0.55" stroke="#e63a55" stroke-width="0.9"/><circle cx="596.16" cy="267.5" r="1.8" fill="#fff" fill-opacity="0.55" stroke="#e63a55" stroke-width="0.9"/><circle cx="617.38" cy="267.5" r="1.8" fill="#fff" fill-opacity="0.55" stroke="#e63a55" stroke-width="0.9"/><circle cx="638.6" cy="267.5" r="1.8" fill="#fff" fill-opacity="0.55" stroke="#e63a55" stroke-width="0.9"/><polyline points="362.74,333.18 383.96,348.98 405.18,358.54 426.4,362.28 447.62,361.45 468.84,360.2 490.06,360.62 511.28,357.29 532.5,358.12 553.72,356.88 574.94,355.21 596.16,356.88 617.38,355.63 638.6,355.21" fill="none" stroke="#e63a55" stroke-width="1.0" stroke-linejoin="round"/><path d="M360.84 333.18H364.64M362.74 331.28V335.08" stroke="#e63a55" stroke-width="0.8"/><path d="M382.06 348.98H385.86M383.96 347.08V350.88" stroke="#e63a55" stroke-width="0.8"/><path d="M403.28 358.54H407.08M405.18 356.64V360.44" stroke="#e63a55" stroke-width="0.8"/><path d="M424.5 362.28H428.3M426.4 360.38V364.18" stroke="#e63a55" stroke-width="0.8"/><path d="M445.72 361.45H449.52M447.62 359.55V363.35" stroke="#e63a55" stroke-width="0.8"/><path d="M466.94 360.2H470.74M468.84 358.3V362.1" stroke="#e63a55" stroke-width="0.8"/><path d="M488.16 360.62H491.96M490.06 358.72V362.52" stroke="#e63a55" stroke-width="0.8"/><path d="M509.38 357.29H513.18M511.28 355.39V359.19" stroke="#e63a55" stroke-width="0.8"/><path d="M530.6 358.12H534.4M532.5 356.22V360.02" stroke="#e63a55" stroke-width="0.8"/><path d="M551.82 356.88H555.62M553.72 354.98V358.78" stroke="#e63a55" stroke-width="0.8"/><path d="M573.04 355.21H576.84M574.94 353.31V357.11" stroke="#e63a55" stroke-width="0.8"/><path d="M594.26 356.88H598.06M596.16 354.98V358.78" stroke="#e63a55" stroke-width="0.8"/><path d="M615.48 355.63H619.28M617.38 353.73V357.53" stroke="#e63a55" stroke-width="0.8"/><path d="M636.7 355.21H640.5M638.6 353.31V357.11" stroke="#e63a55" stroke-width="0.8"/><polyline points="362.74,311.15 383.96,312.4 405.18,313.64 426.4,310.73 447.62,307.82 468.84,305.33 490.06,305.33 511.28,303.25 532.5,302.84 553.72,302.84 574.94,301.59 596.16,300.76 617.38,302 638.6,301.59" fill="none" stroke="#e63a55" stroke-width="1.0" stroke-linejoin="round"/><circle cx="362.74" cy="311.15" r="1.75" fill="#e63a55"/><circle cx="383.96" cy="312.4" r="1.75" fill="#e63a55"/><circle cx="405.18" cy="313.64" r="1.75" fill="#e63a55"/><circle cx="426.4" cy="310.73" r="1.75" fill="#e63a55"/><circle cx="447.62" cy="307.82" r="1.75" fill="#e63a55"/><circle cx="468.84" cy="305.33" r="1.75" fill="#e63a55"/><circle cx="490.06" cy="305.33" r="1.75" fill="#e63a55"/><circle cx="511.28" cy="303.25" r="1.75" fill="#e63a55"/><circle cx="532.5" cy="302.84" r="1.75" fill="#e63a55"/><circle cx="553.72" cy="302.84" r="1.75" fill="#e63a55"/><circle cx="574.94" cy="301.59" r="1.75" fill="#e63a55"/><circle cx="596.16" cy="300.76" r="1.75" fill="#e63a55"/><circle cx="617.38" cy="302" r="1.75" fill="#e63a55"/><circle cx="638.6" cy="301.59" r="1.75" fill="#e63a55"/><polyline points="362.74,297.85 383.96,308.66 405.18,317.39 426.4,317.39 447.62,316.55 468.84,316.14 490.06,315.31 511.28,314.89 532.5,314.48 553.72,316.55 574.94,316.14 596.16,316.14 617.38,316.14 638.6,316.55" fill="none" stroke="#a07a90" stroke-width="1.0" stroke-linejoin="round"/><circle cx="362.74" cy="297.85" r="1.8" fill="#fff" fill-opacity="0.55" stroke="#a07a90" stroke-width="0.9"/><circle cx="383.96" cy="308.66" r="1.8" fill="#fff" fill-opacity="0.55" stroke="#a07a90" stroke-width="0.9"/><circle cx="405.18" cy="317.39" r="1.8" fill="#fff" fill-opacity="0.55" stroke="#a07a90" stroke-width="0.9"/><circle cx="426.4" cy="317.39" r="1.8" fill="#fff" fill-opacity="0.55" stroke="#a07a90" stroke-width="0.9"/><circle cx="447.62" cy="316.55" r="1.8" fill="#fff" fill-opacity="0.55" stroke="#a07a90" stroke-width="0.9"/><circle cx="468.84" cy="316.14" r="1.8" fill="#fff" fill-opacity="0.55" stroke="#a07a90" stroke-width="0.9"/><circle cx="490.06" cy="315.31" r="1.8" fill="#fff" fill-opacity="0.55" stroke="#a07a90" stroke-width="0.9"/><circle cx="511.28" cy="314.89" r="1.8" fill="#fff" fill-opacity="0.55" stroke="#a07a90" stroke-width="0.9"/><circle cx="532.5" cy="314.48" r="1.8" fill="#fff" fill-opacity="0.55" stroke="#a07a90" stroke-width="0.9"/><circle cx="553.72" cy="316.55" r="1.8" fill="#fff" fill-opacity="0.55" stroke="#a07a90" stroke-width="0.9"/><circle cx="574.94" cy="316.14" r="1.8" fill="#fff" fill-opacity="0.55" stroke="#a07a90" stroke-width="0.9"/><circle cx="596.16" cy="316.14" r="1.8" fill="#fff" fill-opacity="0.55" stroke="#a07a90" stroke-width="0.9"/><circle cx="617.38" cy="316.14" r="1.8" fill="#fff" fill-opacity="0.55" stroke="#a07a90" stroke-width="0.9"/><circle cx="638.6" cy="316.55" r="1.8" fill="#fff" fill-opacity="0.55" stroke="#a07a90" stroke-width="0.9"/><polyline points="362.74,301.59 383.96,313.64 405.18,323.62 426.4,329.03 447.62,332.35 468.84,333.6 490.06,334.01 511.28,331.1 532.5,327.78 553.72,324.87 574.94,322.37 596.16,319.05 617.38,316.55 638.6,314.89" fill="none" stroke="#a07a90" stroke-width="1.0" stroke-linejoin="round"/><path d="M360.84 301.59H364.64M362.74 299.69V303.49" stroke="#a07a90" stroke-width="0.8"/><path d="M382.06 313.64H385.86M383.96 311.74V315.54" stroke="#a07a90" stroke-width="0.8"/><path d="M403.28 323.62H407.08M405.18 321.72V325.52" stroke="#a07a90" stroke-width="0.8"/><path d="M424.5 329.03H428.3M426.4 327.13V330.93" stroke="#a07a90" stroke-width="0.8"/><path d="M445.72 332.35H449.52M447.62 330.45V334.25" stroke="#a07a90" stroke-width="0.8"/><path d="M466.94 333.6H470.74M468.84 331.7V335.5" stroke="#a07a90" stroke-width="0.8"/><path d="M488.16 334.01H491.96M490.06 332.11V335.91" stroke="#a07a90" stroke-width="0.8"/><path d="M509.38 331.1H513.18M511.28 329.2V333" stroke="#a07a90" stroke-width="0.8"/><path d="M530.6 327.78H534.4M532.5 325.88V329.68" stroke="#a07a90" stroke-width="0.8"/><path d="M551.82 324.87H555.62M553.72 322.97V326.77" stroke="#a07a90" stroke-width="0.8"/><path d="M573.04 322.37H576.84M574.94 320.47V324.27" stroke="#a07a90" stroke-width="0.8"/><path d="M594.26 319.05H598.06M596.16 317.15V320.95" stroke="#a07a90" stroke-width="0.8"/><path d="M615.48 316.55H619.28M617.38 314.65V318.45" stroke="#a07a90" stroke-width="0.8"/><path d="M636.7 314.89H640.5M638.6 312.99V316.79" stroke="#a07a90" stroke-width="0.8"/><polyline points="362.74,300.34 383.96,308.66 405.18,317.39 426.4,324.45 447.62,330.27 468.84,333.18 490.06,334.84 511.28,332.77 532.5,330.69 553.72,329.86 574.94,328.19 596.16,327.78 617.38,325.7 638.6,325.28" fill="none" stroke="#a07a90" stroke-width="1.0" stroke-linejoin="round"/><circle cx="362.74" cy="300.34" r="1.75" fill="#a07a90"/><circle cx="383.96" cy="308.66" r="1.75" fill="#a07a90"/><circle cx="405.18" cy="317.39" r="1.75" fill="#a07a90"/><circle cx="426.4" cy="324.45" r="1.75" fill="#a07a90"/><circle cx="447.62" cy="330.27" r="1.75" fill="#a07a90"/><circle cx="468.84" cy="333.18" r="1.75" fill="#a07a90"/><circle cx="490.06" cy="334.84" r="1.75" fill="#a07a90"/><circle cx="511.28" cy="332.77" r="1.75" fill="#a07a90"/><circle cx="532.5" cy="330.69" r="1.75" fill="#a07a90"/><circle cx="553.72" cy="329.86" r="1.75" fill="#a07a90"/><circle cx="574.94" cy="328.19" r="1.75" fill="#a07a90"/><circle cx="596.16" cy="327.78" r="1.75" fill="#a07a90"/><circle cx="617.38" cy="325.7" r="1.75" fill="#a07a90"/><circle cx="638.6" cy="325.28" r="1.75" fill="#a07a90"/><polyline points="362.74,259.19 383.96,260.43 405.18,260.43 426.4,260.43 447.62,260.43 468.84,260.43 490.06,260.43 511.28,260.02 532.5,260.02 553.72,260.43 574.94,260.43 596.16,260.43 617.38,260.85 638.6,260.85" fill="none" stroke="#f23cf0" stroke-width="1.3" stroke-dasharray="4.4 2.4"/><polyline points="362.74,270.2 383.96,277.48 405.18,282.05 426.4,284.96 447.62,285.79 468.84,286.21 490.06,286.21 511.28,285.79 532.5,285.79 553.72,285.38 574.94,285.38 596.16,284.96 617.38,284.96 638.6,285.38" fill="none" stroke="#2a2af4" stroke-width="1.3" stroke-dasharray="4.4 2.4"/><polyline points="362.74,271.24 383.96,255.86 405.18,246.72 426.4,247.55 447.62,249.21 468.84,251.29 490.06,252.54 511.28,253.78 532.5,254.2 553.72,254.61 574.94,255.03 596.16,255.45 617.38,255.45 638.6,255.45" fill="none" stroke="#3c3c3c" stroke-width="1.1" stroke-dasharray="4.4 2.4"/></g>
<path d="M362.74 212.3V383.7" stroke="#b4b4b4" stroke-width="1.6"/>
<path d="M362.24 383.2H638.6" stroke="#555555" stroke-width="1"/>
<path d="M373.35 383.2v-2.5M426.4 383.2v-2.5M479.45 383.2v-2.5M532.5 383.2v-2.5M585.55 383.2v-2.5M638.6 383.2v-2.5M362.74 225.1h3M362.74 245.89h3M362.74 266.67h3M362.74 287.46h3M362.74 308.24h3M362.74 329.03h3M362.74 349.81h3M362.74 370.6h3" stroke="#555555" stroke-width="0.8"/>
<g font-size="8.7"><text transform="translate(372.75 394.1) scale(0.95 1)" text-anchor="middle">-5</text><text transform="translate(425.8 394.1) scale(0.95 1)" text-anchor="middle">0</text><text transform="translate(478.85 394.1) scale(0.95 1)" text-anchor="middle">5</text><text transform="translate(531.9 394.1) scale(0.95 1)" text-anchor="middle">10</text><text transform="translate(584.95 394.1) scale(0.95 1)" text-anchor="middle">15</text><text transform="translate(638 394.1) scale(0.95 1)" text-anchor="middle">20</text><text transform="translate(358.64 228) scale(0.95 1)" text-anchor="end">1</text><text transform="translate(357.94 248.79) scale(0.95 1)" text-anchor="end">0.5</text><text transform="translate(358.64 269.57) scale(0.95 1)" text-anchor="end">0</text><text transform="translate(357.94 290.36) scale(0.95 1)" text-anchor="end">-0.5</text><text transform="translate(358.64 311.14) scale(0.95 1)" text-anchor="end">-1</text><text transform="translate(357.94 331.93) scale(0.95 1)" text-anchor="end">-1.5</text><text transform="translate(358.64 352.71) scale(0.95 1)" text-anchor="end">-2</text><text transform="translate(357.94 373.5) scale(0.95 1)" text-anchor="end">-2.5</text></g>
<text transform="translate(499.37 406.4) scale(1.06 1)" font-size="8.8" text-anchor="middle">SNR<tspan font-size="7" font-style="italic" dx="0.3" dy="4">te</tspan><tspan dx="1.3" dy="-4"> (dB)</tspan></text>
<path d="M642 213.8H655" stroke="#f80bd8" stroke-width="0.8"/><circle cx="648.5" cy="213.8" r="1.8" fill="#fff" fill-opacity="0.55" stroke="#f80bd8" stroke-width="0.9"/><text transform="translate(656.8 216.6) scale(1.06 1)" font-size="8.3">2ASK</text><path d="M642 225.76H655" stroke="#f80bd8" stroke-width="0.8"/><path d="M646.6 225.76H650.4M648.5 223.86V227.66" stroke="#f80bd8" stroke-width="0.8"/><text transform="translate(656.8 228.56) scale(1.06 1)" font-size="8.3">4ASK</text><path d="M642 237.72H655" stroke="#f80bd8" stroke-width="0.8"/><circle cx="648.5" cy="237.72" r="1.75" fill="#f80bd8"/><text transform="translate(656.8 240.52) scale(1.06 1)" font-size="8.3">8ASK</text><path d="M642 249.68H655" stroke="#8a2fe0" stroke-width="0.8"/><circle cx="648.5" cy="249.68" r="1.8" fill="#fff" fill-opacity="0.55" stroke="#8a2fe0" stroke-width="0.9"/><text transform="translate(656.8 252.48) scale(1.06 1)" font-size="8.3">2FSK</text><path d="M642 261.64H655" stroke="#8a2fe0" stroke-width="0.8"/><path d="M646.6 261.64H650.4M648.5 259.74V263.54" stroke="#8a2fe0" stroke-width="0.8"/><text transform="translate(656.8 264.44) scale(1.06 1)" font-size="8.3">4FSK</text><path d="M642 273.6H655" stroke="#8a2fe0" stroke-width="0.8"/><circle cx="648.5" cy="273.6" r="1.75" fill="#8a2fe0"/><text transform="translate(656.8 276.4) scale(1.06 1)" font-size="8.3">8FSK</text><path d="M642 285.56H655" stroke="#e63a55" stroke-width="0.8"/><circle cx="648.5" cy="285.56" r="1.8" fill="#fff" fill-opacity="0.55" stroke="#e63a55" stroke-width="0.9"/><text transform="translate(656.8 288.36) scale(1.06 1)" font-size="8.3">2PSK</text><path d="M642 297.52H655" stroke="#e63a55" stroke-width="0.8"/><path d="M646.6 297.52H650.4M648.5 295.62V299.42" stroke="#e63a55" stroke-width="0.8"/><text transform="translate(656.8 300.32) scale(1.06 1)" font-size="8.3">4PSK</text><path d="M642 309.48H655" stroke="#e63a55" stroke-width="0.8"/><circle cx="648.5" cy="309.48" r="1.75" fill="#e63a55"/><text transform="translate(656.8 312.28) scale(1.06 1)" font-size="8.3">8PSK</text><path d="M642 321.44H655" stroke="#a07a90" stroke-width="0.8"/><circle cx="648.5" cy="321.44" r="1.8" fill="#fff" fill-opacity="0.55" stroke="#a07a90" stroke-width="0.9"/><text transform="translate(656.8 324.24) scale(1.06 1)" font-size="8.3">4QAM</text><path d="M642 333.4H655" stroke="#a07a90" stroke-width="0.8"/><path d="M646.6 333.4H650.4M648.5 331.5V335.3" stroke="#a07a90" stroke-width="0.8"/><text transform="translate(656.8 336.2) scale(1.06 1)" font-size="8.3">16QAM</text><path d="M642 345.36H655" stroke="#a07a90" stroke-width="0.8"/><circle cx="648.5" cy="345.36" r="1.75" fill="#a07a90"/><text transform="translate(656.8 348.16) scale(1.06 1)" font-size="8.3">64QAM</text><path d="M642 357.32H655" stroke="#f23cf0" stroke-width="1" stroke-dasharray="4.2 3"/><text transform="translate(656.8 360.12) scale(1.06 1)" font-size="8.3">OFDM</text><path d="M642 369.28H655" stroke="#2a2af4" stroke-width="1" stroke-dasharray="4.2 3"/><text transform="translate(656.8 372.08) scale(1.06 1)" font-size="8.3">LFM</text><path d="M642 381.24H655" stroke="#3c3c3c" stroke-width="1" stroke-dasharray="4.2 3"/><text transform="translate(656.8 384.04) scale(1.06 1)" font-size="8.3">MSK</text>
<text x="331" y="216.8" font-size="16.8" font-weight="bold" style="stroke:#000;stroke-width:0.4px;fill:#000">d</text>
</svg>
</body></html>
